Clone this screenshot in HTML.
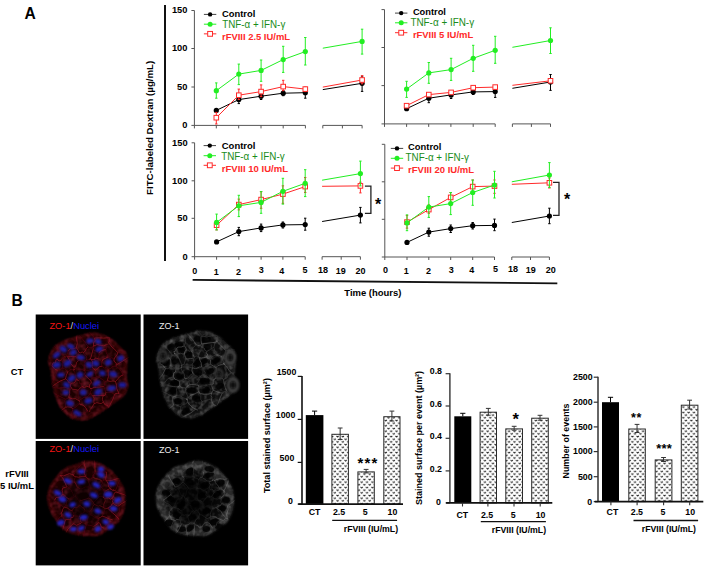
<!DOCTYPE html>
<html><head><meta charset="utf-8"><title>Figure</title>
<style>
html,body{margin:0;padding:0;background:#fff;width:709px;height:571px;overflow:hidden}
svg{display:block}
text{font-family:"Liberation Sans",sans-serif}
</style></head><body>
<svg width="709" height="571" viewBox="0 0 709 571">
<defs><filter id="bl1" x="-20%" y="-20%" width="140%" height="140%"><feGaussianBlur stdDeviation="2.2"/></filter>
<filter id="bl2" x="-20%" y="-20%" width="140%" height="140%"><feGaussianBlur stdDeviation="0.6"/></filter>
<filter id="bl3" x="-20%" y="-20%" width="140%" height="140%"><feGaussianBlur stdDeviation="0.35"/></filter>
<pattern id="dots" patternUnits="userSpaceOnUse" x="383.4" y="440.5" width="5.36" height="5.36">
<path d="M1.3,0.9 L2.4,1.8 L3.5,0.9 M3.98,3.58 L5.08,4.48 L6.18,3.58 M-1.38,3.58 L-0.28,4.48 L0.82,3.58" stroke="#222" stroke-width="0.95" fill="none"/>
</pattern><filter id="mb15" x="-20%" y="-20%" width="140%" height="140%"><feGaussianBlur stdDeviation="1.3"/></filter>
<filter id="mb2" x="-20%" y="-20%" width="140%" height="140%"><feGaussianBlur stdDeviation="2"/></filter>
<filter id="mb3" x="-30%" y="-30%" width="160%" height="160%"><feGaussianBlur stdDeviation="5"/></filter>
<filter id="mb08" x="-50%" y="-50%" width="200%" height="200%"><feGaussianBlur stdDeviation="0.85"/></filter>
<filter id="mb12" x="-20%" y="-20%" width="140%" height="140%"><feGaussianBlur stdDeviation="1.1"/></filter>
<filter id="mb07" x="-50%" y="-50%" width="200%" height="200%"><feGaussianBlur stdDeviation="0.7"/></filter>
<filter id="texR1" x="0" y="0" width="100%" height="100%"><feTurbulence type="fractalNoise" baseFrequency="0.16" numOctaves="2" seed="7"/><feColorMatrix type="matrix" values="0 0 0 0 0.36  0 0 0 0 0.02  0 0 0 0 0.05  1.2 0 0 0 -0.5"/></filter>
<filter id="texG1" x="0" y="0" width="100%" height="100%"><feTurbulence type="fractalNoise" baseFrequency="0.2" numOctaves="2" seed="7"/><feColorMatrix type="matrix" values="0 0 0 0 0.24  0 0 0 0 0.24  0 0 0 0 0.24  1.2 0 0 0 -0.5"/></filter>
<filter id="texR2" x="0" y="0" width="100%" height="100%"><feTurbulence type="fractalNoise" baseFrequency="0.16" numOctaves="2" seed="14"/><feColorMatrix type="matrix" values="0 0 0 0 0.36  0 0 0 0 0.02  0 0 0 0 0.05  1.2 0 0 0 -0.5"/></filter>
<filter id="texG2" x="0" y="0" width="100%" height="100%"><feTurbulence type="fractalNoise" baseFrequency="0.2" numOctaves="2" seed="14"/><feColorMatrix type="matrix" values="0 0 0 0 0.24  0 0 0 0 0.24  0 0 0 0 0.24  1.2 0 0 0 -0.5"/></filter>
<filter id="texR3" x="0" y="0" width="100%" height="100%"><feTurbulence type="fractalNoise" baseFrequency="0.16" numOctaves="2" seed="21"/><feColorMatrix type="matrix" values="0 0 0 0 0.36  0 0 0 0 0.02  0 0 0 0 0.05  1.2 0 0 0 -0.5"/></filter>
<filter id="texG3" x="0" y="0" width="100%" height="100%"><feTurbulence type="fractalNoise" baseFrequency="0.2" numOctaves="2" seed="21"/><feColorMatrix type="matrix" values="0 0 0 0 0.24  0 0 0 0 0.24  0 0 0 0 0.24  1.2 0 0 0 -0.5"/></filter>
<filter id="texR4" x="0" y="0" width="100%" height="100%"><feTurbulence type="fractalNoise" baseFrequency="0.16" numOctaves="2" seed="28"/><feColorMatrix type="matrix" values="0 0 0 0 0.36  0 0 0 0 0.02  0 0 0 0 0.05  1.2 0 0 0 -0.5"/></filter>
<filter id="texG4" x="0" y="0" width="100%" height="100%"><feTurbulence type="fractalNoise" baseFrequency="0.2" numOctaves="2" seed="28"/><feColorMatrix type="matrix" values="0 0 0 0 0.24  0 0 0 0 0.24  0 0 0 0 0.24  1.2 0 0 0 -0.5"/></filter>
<filter id="mb05" x="-5%" y="-5%" width="110%" height="110%"><feGaussianBlur stdDeviation="0.45"/></filter></defs>
<text x="24.4" y="18.6" font-size="15.6" font-weight="bold" fill="#000" text-anchor="start" >A</text>
<line x1="165" y1="5" x2="165" y2="261" stroke="#111" stroke-width="2"/>
<text transform="translate(153.1,127.9) rotate(-90)" x="0" y="0" font-size="9.3" font-weight="bold" text-anchor="middle" textLength="134" lengthAdjust="spacingAndGlyphs">FITC-labeled Dextran (µg/mL)</text>
<line x1="194.4" y1="10.5" x2="194.4" y2="128.4" stroke="#555" stroke-width="1"/>
<line x1="191.4" y1="10.5" x2="194.4" y2="10.5" stroke="#555" stroke-width="1"/>
<text x="187.4" y="13.4" font-size="9.3" font-weight="bold" fill="#000" text-anchor="end" >150</text>
<line x1="191.4" y1="48.5" x2="194.4" y2="48.5" stroke="#555" stroke-width="1"/>
<text x="187.4" y="51.4" font-size="9.3" font-weight="bold" fill="#000" text-anchor="end" >100</text>
<line x1="191.4" y1="87.0" x2="194.4" y2="87.0" stroke="#555" stroke-width="1"/>
<text x="187.4" y="89.9" font-size="9.3" font-weight="bold" fill="#000" text-anchor="end" >50</text>
<line x1="191.4" y1="125.4" x2="194.4" y2="125.4" stroke="#555" stroke-width="1"/>
<text x="187.4" y="128.3" font-size="9.3" font-weight="bold" fill="#000" text-anchor="end" >0</text>
<line x1="194.4" y1="125.4" x2="305.4" y2="125.4" stroke="#555" stroke-width="1"/>
<line x1="216.3" y1="125.4" x2="216.3" y2="128.4" stroke="#555" stroke-width="1"/>
<line x1="238.7" y1="125.4" x2="238.7" y2="128.4" stroke="#555" stroke-width="1"/>
<line x1="261.0" y1="125.4" x2="261.0" y2="128.4" stroke="#555" stroke-width="1"/>
<line x1="283.2" y1="125.4" x2="283.2" y2="128.4" stroke="#555" stroke-width="1"/>
<line x1="305.4" y1="125.4" x2="305.4" y2="128.4" stroke="#555" stroke-width="1"/>
<line x1="322.8" y1="125.4" x2="362.1" y2="125.4" stroke="#555" stroke-width="1"/>
<line x1="322.8" y1="125.4" x2="322.8" y2="128.4" stroke="#555" stroke-width="1"/>
<line x1="342.4" y1="125.4" x2="342.4" y2="128.4" stroke="#555" stroke-width="1"/>
<line x1="362.1" y1="125.4" x2="362.1" y2="128.4" stroke="#555" stroke-width="1"/>
<polyline points="216.3,110.4 238.8,99.6 261.1,96.2 283.2,93.2 305.3,92.7" fill="none" stroke="#000" stroke-width="1"/>
<line x1="322.8" y1="89.6" x2="362.1" y2="83.3" stroke="#000" stroke-width="1"/>
<line x1="238.8" y1="96.6" x2="238.8" y2="103.6" stroke="#000" stroke-width="1"/>
<line x1="237.60000000000002" y1="96.6" x2="240.0" y2="96.6" stroke="#000" stroke-width="1"/>
<line x1="237.60000000000002" y1="103.6" x2="240.0" y2="103.6" stroke="#000" stroke-width="1"/>
<line x1="261.1" y1="93" x2="261.1" y2="99.5" stroke="#000" stroke-width="1"/>
<line x1="259.90000000000003" y1="93" x2="262.3" y2="93" stroke="#000" stroke-width="1"/>
<line x1="259.90000000000003" y1="99.5" x2="262.3" y2="99.5" stroke="#000" stroke-width="1"/>
<line x1="283.2" y1="90.5" x2="283.2" y2="95.7" stroke="#000" stroke-width="1"/>
<line x1="282.0" y1="90.5" x2="284.4" y2="90.5" stroke="#000" stroke-width="1"/>
<line x1="282.0" y1="95.7" x2="284.4" y2="95.7" stroke="#000" stroke-width="1"/>
<line x1="305.3" y1="87.4" x2="305.3" y2="98.2" stroke="#000" stroke-width="1"/>
<line x1="304.1" y1="87.4" x2="306.5" y2="87.4" stroke="#000" stroke-width="1"/>
<line x1="304.1" y1="98.2" x2="306.5" y2="98.2" stroke="#000" stroke-width="1"/>
<line x1="362.1" y1="76.2" x2="362.1" y2="91.4" stroke="#000" stroke-width="1"/>
<line x1="360.90000000000003" y1="76.2" x2="363.3" y2="76.2" stroke="#000" stroke-width="1"/>
<line x1="360.90000000000003" y1="91.4" x2="363.3" y2="91.4" stroke="#000" stroke-width="1"/>
<circle cx="216.3" cy="110.4" r="2.6" fill="#000"/>
<circle cx="238.8" cy="99.6" r="2.6" fill="#000"/>
<circle cx="261.1" cy="96.2" r="2.6" fill="#000"/>
<circle cx="283.2" cy="93.2" r="2.6" fill="#000"/>
<circle cx="305.3" cy="92.7" r="2.6" fill="#000"/>
<circle cx="362.1" cy="83.3" r="2.6" fill="#000"/>
<polyline points="216.3,117.7 238.8,95.2 261.1,91.6 283.2,86.6 305.3,89.1" fill="none" stroke="#ff2a2a" stroke-width="1"/>
<line x1="322.8" y1="87.1" x2="362.1" y2="80.0" stroke="#ff2a2a" stroke-width="1"/>
<line x1="216.3" y1="112.4" x2="216.3" y2="124" stroke="#ff2a2a" stroke-width="1"/>
<line x1="215.10000000000002" y1="112.4" x2="217.5" y2="112.4" stroke="#ff2a2a" stroke-width="1"/>
<line x1="215.10000000000002" y1="124" x2="217.5" y2="124" stroke="#ff2a2a" stroke-width="1"/>
<line x1="238.8" y1="89.1" x2="238.8" y2="99.5" stroke="#ff2a2a" stroke-width="1"/>
<line x1="237.60000000000002" y1="89.1" x2="240.0" y2="89.1" stroke="#ff2a2a" stroke-width="1"/>
<line x1="237.60000000000002" y1="99.5" x2="240.0" y2="99.5" stroke="#ff2a2a" stroke-width="1"/>
<line x1="261.1" y1="84.9" x2="261.1" y2="96.6" stroke="#ff2a2a" stroke-width="1"/>
<line x1="259.90000000000003" y1="84.9" x2="262.3" y2="84.9" stroke="#ff2a2a" stroke-width="1"/>
<line x1="259.90000000000003" y1="96.6" x2="262.3" y2="96.6" stroke="#ff2a2a" stroke-width="1"/>
<line x1="283.2" y1="80.3" x2="283.2" y2="90.7" stroke="#ff2a2a" stroke-width="1"/>
<line x1="282.0" y1="80.3" x2="284.4" y2="80.3" stroke="#ff2a2a" stroke-width="1"/>
<line x1="282.0" y1="90.7" x2="284.4" y2="90.7" stroke="#ff2a2a" stroke-width="1"/>
<line x1="305.3" y1="87.1" x2="305.3" y2="91.6" stroke="#ff2a2a" stroke-width="1"/>
<line x1="304.1" y1="87.1" x2="306.5" y2="87.1" stroke="#ff2a2a" stroke-width="1"/>
<line x1="304.1" y1="91.6" x2="306.5" y2="91.6" stroke="#ff2a2a" stroke-width="1"/>
<line x1="362.1" y1="75.7" x2="362.1" y2="83.8" stroke="#ff2a2a" stroke-width="1"/>
<line x1="360.90000000000003" y1="75.7" x2="363.3" y2="75.7" stroke="#ff2a2a" stroke-width="1"/>
<line x1="360.90000000000003" y1="83.8" x2="363.3" y2="83.8" stroke="#ff2a2a" stroke-width="1"/>
<rect x="214.0" y="115.4" width="4.6" height="4.6" fill="#fff" stroke="#ff2a2a" stroke-width="1"/>
<rect x="236.5" y="92.9" width="4.6" height="4.6" fill="#fff" stroke="#ff2a2a" stroke-width="1"/>
<rect x="258.8" y="89.3" width="4.6" height="4.6" fill="#fff" stroke="#ff2a2a" stroke-width="1"/>
<rect x="280.9" y="84.3" width="4.6" height="4.6" fill="#fff" stroke="#ff2a2a" stroke-width="1"/>
<rect x="303.0" y="86.8" width="4.6" height="4.6" fill="#fff" stroke="#ff2a2a" stroke-width="1"/>
<rect x="359.8" y="77.7" width="4.6" height="4.6" fill="#fff" stroke="#ff2a2a" stroke-width="1"/>
<polyline points="216.3,90.7 238.8,74.1 261.1,70.4 283.2,59.6 305.3,51.6" fill="none" stroke="#22ee22" stroke-width="1"/>
<line x1="322.8" y1="48.2" x2="362.1" y2="41.4" stroke="#22ee22" stroke-width="1"/>
<line x1="216.3" y1="82.9" x2="216.3" y2="98.2" stroke="#22ee22" stroke-width="1"/>
<line x1="215.10000000000002" y1="82.9" x2="217.5" y2="82.9" stroke="#22ee22" stroke-width="1"/>
<line x1="215.10000000000002" y1="98.2" x2="217.5" y2="98.2" stroke="#22ee22" stroke-width="1"/>
<line x1="238.8" y1="64.1" x2="238.8" y2="84.6" stroke="#22ee22" stroke-width="1"/>
<line x1="237.60000000000002" y1="64.1" x2="240.0" y2="64.1" stroke="#22ee22" stroke-width="1"/>
<line x1="237.60000000000002" y1="84.6" x2="240.0" y2="84.6" stroke="#22ee22" stroke-width="1"/>
<line x1="261.1" y1="60" x2="261.1" y2="81.3" stroke="#22ee22" stroke-width="1"/>
<line x1="259.90000000000003" y1="60" x2="262.3" y2="60" stroke="#22ee22" stroke-width="1"/>
<line x1="259.90000000000003" y1="81.3" x2="262.3" y2="81.3" stroke="#22ee22" stroke-width="1"/>
<line x1="283.2" y1="46.3" x2="283.2" y2="72.4" stroke="#22ee22" stroke-width="1"/>
<line x1="282.0" y1="46.3" x2="284.4" y2="46.3" stroke="#22ee22" stroke-width="1"/>
<line x1="282.0" y1="72.4" x2="284.4" y2="72.4" stroke="#22ee22" stroke-width="1"/>
<line x1="305.3" y1="37.5" x2="305.3" y2="65" stroke="#22ee22" stroke-width="1"/>
<line x1="304.1" y1="37.5" x2="306.5" y2="37.5" stroke="#22ee22" stroke-width="1"/>
<line x1="304.1" y1="65" x2="306.5" y2="65" stroke="#22ee22" stroke-width="1"/>
<line x1="362.1" y1="29.2" x2="362.1" y2="54.1" stroke="#22ee22" stroke-width="1"/>
<line x1="360.90000000000003" y1="29.2" x2="363.3" y2="29.2" stroke="#22ee22" stroke-width="1"/>
<line x1="360.90000000000003" y1="54.1" x2="363.3" y2="54.1" stroke="#22ee22" stroke-width="1"/>
<circle cx="216.3" cy="90.7" r="2.6" fill="#22ee22"/>
<circle cx="238.8" cy="74.1" r="2.6" fill="#22ee22"/>
<circle cx="261.1" cy="70.4" r="2.6" fill="#22ee22"/>
<circle cx="283.2" cy="59.6" r="2.6" fill="#22ee22"/>
<circle cx="305.3" cy="51.6" r="2.6" fill="#22ee22"/>
<circle cx="362.1" cy="41.4" r="2.6" fill="#22ee22"/>
<line x1="203.9" y1="14.4" x2="216.29999999999998" y2="14.4" stroke="#444" stroke-width="1"/>
<circle cx="210.1" cy="14.4" r="2.2" fill="#000"/>
<text x="222.1" y="16.7" font-size="9.5" font-weight="bold" fill="#000" text-anchor="start" textLength="33.2" lengthAdjust="spacingAndGlyphs" >Control</text>
<line x1="203.9" y1="24.2" x2="216.29999999999998" y2="24.2" stroke="#22ee22" stroke-width="1"/>
<circle cx="210.1" cy="24.2" r="2.5" fill="#22ee22"/>
<text x="222.2" y="27.7" font-size="10" font-weight="normal" fill="#1a8c1a" text-anchor="start" textLength="63.1" lengthAdjust="spacingAndGlyphs" >TNF-α + IFN-γ</text>
<line x1="203.9" y1="33.85" x2="216.29999999999998" y2="33.85" stroke="#ff2a2a" stroke-width="1"/>
<rect x="207.7" y="31.450000000000003" width="4.8" height="4.8" fill="#fff" stroke="#ff2a2a" stroke-width="1"/>
<text x="222.0" y="39.6" font-size="9.6" font-weight="bold" fill="#ff2a2a" text-anchor="start" textLength="68" lengthAdjust="spacingAndGlyphs" >rFVIII 2.5 IU/mL</text>
<line x1="384.5" y1="9.6" x2="384.5" y2="126.9" stroke="#555" stroke-width="1"/>
<line x1="381.5" y1="9.6" x2="384.5" y2="9.6" stroke="#555" stroke-width="1"/>
<line x1="381.5" y1="47.5" x2="384.5" y2="47.5" stroke="#555" stroke-width="1"/>
<line x1="381.5" y1="85.6" x2="384.5" y2="85.6" stroke="#555" stroke-width="1"/>
<line x1="381.5" y1="123.9" x2="384.5" y2="123.9" stroke="#555" stroke-width="1"/>
<line x1="384.5" y1="123.9" x2="495.2" y2="123.9" stroke="#555" stroke-width="1"/>
<line x1="406.6" y1="123.9" x2="406.6" y2="126.9" stroke="#555" stroke-width="1"/>
<line x1="428.7" y1="123.9" x2="428.7" y2="126.9" stroke="#555" stroke-width="1"/>
<line x1="450.9" y1="123.9" x2="450.9" y2="126.9" stroke="#555" stroke-width="1"/>
<line x1="473.2" y1="123.9" x2="473.2" y2="126.9" stroke="#555" stroke-width="1"/>
<line x1="495.2" y1="123.9" x2="495.2" y2="126.9" stroke="#555" stroke-width="1"/>
<line x1="512.4" y1="123.9" x2="550.5" y2="123.9" stroke="#555" stroke-width="1"/>
<line x1="512.4" y1="123.9" x2="512.4" y2="126.9" stroke="#555" stroke-width="1"/>
<line x1="531.4" y1="123.9" x2="531.4" y2="126.9" stroke="#555" stroke-width="1"/>
<line x1="550.5" y1="123.9" x2="550.5" y2="126.9" stroke="#555" stroke-width="1"/>
<polyline points="406.6,108.7 428.8,98.2 451.1,94.9 473.2,91.9 495.2,91.6" fill="none" stroke="#000" stroke-width="1"/>
<line x1="512.4" y1="88.3" x2="550.5" y2="82.0" stroke="#000" stroke-width="1"/>
<line x1="428.8" y1="95.7" x2="428.8" y2="102.7" stroke="#000" stroke-width="1"/>
<line x1="427.6" y1="95.7" x2="430.0" y2="95.7" stroke="#000" stroke-width="1"/>
<line x1="427.6" y1="102.7" x2="430.0" y2="102.7" stroke="#000" stroke-width="1"/>
<line x1="451.1" y1="92" x2="451.1" y2="98.5" stroke="#000" stroke-width="1"/>
<line x1="449.90000000000003" y1="92" x2="452.3" y2="92" stroke="#000" stroke-width="1"/>
<line x1="449.90000000000003" y1="98.5" x2="452.3" y2="98.5" stroke="#000" stroke-width="1"/>
<line x1="473.2" y1="89.5" x2="473.2" y2="94.5" stroke="#000" stroke-width="1"/>
<line x1="472.0" y1="89.5" x2="474.4" y2="89.5" stroke="#000" stroke-width="1"/>
<line x1="472.0" y1="94.5" x2="474.4" y2="94.5" stroke="#000" stroke-width="1"/>
<line x1="495.2" y1="86.6" x2="495.2" y2="97.4" stroke="#000" stroke-width="1"/>
<line x1="494.0" y1="86.6" x2="496.4" y2="86.6" stroke="#000" stroke-width="1"/>
<line x1="494.0" y1="97.4" x2="496.4" y2="97.4" stroke="#000" stroke-width="1"/>
<line x1="550.5" y1="74.5" x2="550.5" y2="90.4" stroke="#000" stroke-width="1"/>
<line x1="549.3" y1="74.5" x2="551.7" y2="74.5" stroke="#000" stroke-width="1"/>
<line x1="549.3" y1="90.4" x2="551.7" y2="90.4" stroke="#000" stroke-width="1"/>
<circle cx="406.6" cy="108.7" r="2.6" fill="#000"/>
<circle cx="428.8" cy="98.2" r="2.6" fill="#000"/>
<circle cx="451.1" cy="94.9" r="2.6" fill="#000"/>
<circle cx="473.2" cy="91.9" r="2.6" fill="#000"/>
<circle cx="495.2" cy="91.6" r="2.6" fill="#000"/>
<circle cx="550.5" cy="82.0" r="2.6" fill="#000"/>
<polyline points="406.6,105.7 428.8,94.6 451.1,92.4 473.2,87.7 495.2,87.1" fill="none" stroke="#ff2a2a" stroke-width="1"/>
<line x1="512.4" y1="85.3" x2="550.5" y2="80.8" stroke="#ff2a2a" stroke-width="1"/>
<rect x="404.3" y="103.4" width="4.6" height="4.6" fill="#fff" stroke="#ff2a2a" stroke-width="1"/>
<rect x="426.5" y="92.3" width="4.6" height="4.6" fill="#fff" stroke="#ff2a2a" stroke-width="1"/>
<rect x="448.8" y="90.10000000000001" width="4.6" height="4.6" fill="#fff" stroke="#ff2a2a" stroke-width="1"/>
<rect x="470.9" y="85.4" width="4.6" height="4.6" fill="#fff" stroke="#ff2a2a" stroke-width="1"/>
<rect x="492.9" y="84.8" width="4.6" height="4.6" fill="#fff" stroke="#ff2a2a" stroke-width="1"/>
<rect x="548.2" y="78.5" width="4.6" height="4.6" fill="#fff" stroke="#ff2a2a" stroke-width="1"/>
<polyline points="406.6,89.1 428.8,72.9 451.1,69.6 473.2,58.3 495.2,50.3" fill="none" stroke="#22ee22" stroke-width="1"/>
<line x1="512.4" y1="47.3" x2="550.5" y2="40.5" stroke="#22ee22" stroke-width="1"/>
<line x1="406.6" y1="81.3" x2="406.6" y2="97.4" stroke="#22ee22" stroke-width="1"/>
<line x1="405.40000000000003" y1="81.3" x2="407.8" y2="81.3" stroke="#22ee22" stroke-width="1"/>
<line x1="405.40000000000003" y1="97.4" x2="407.8" y2="97.4" stroke="#22ee22" stroke-width="1"/>
<line x1="428.8" y1="62.5" x2="428.8" y2="83.3" stroke="#22ee22" stroke-width="1"/>
<line x1="427.6" y1="62.5" x2="430.0" y2="62.5" stroke="#22ee22" stroke-width="1"/>
<line x1="427.6" y1="83.3" x2="430.0" y2="83.3" stroke="#22ee22" stroke-width="1"/>
<line x1="451.1" y1="58.3" x2="451.1" y2="80.4" stroke="#22ee22" stroke-width="1"/>
<line x1="449.90000000000003" y1="58.3" x2="452.3" y2="58.3" stroke="#22ee22" stroke-width="1"/>
<line x1="449.90000000000003" y1="80.4" x2="452.3" y2="80.4" stroke="#22ee22" stroke-width="1"/>
<line x1="473.2" y1="45.3" x2="473.2" y2="71.3" stroke="#22ee22" stroke-width="1"/>
<line x1="472.0" y1="45.3" x2="474.4" y2="45.3" stroke="#22ee22" stroke-width="1"/>
<line x1="472.0" y1="71.3" x2="474.4" y2="71.3" stroke="#22ee22" stroke-width="1"/>
<line x1="495.2" y1="36.3" x2="495.2" y2="63.3" stroke="#22ee22" stroke-width="1"/>
<line x1="494.0" y1="36.3" x2="496.4" y2="36.3" stroke="#22ee22" stroke-width="1"/>
<line x1="494.0" y1="63.3" x2="496.4" y2="63.3" stroke="#22ee22" stroke-width="1"/>
<line x1="550.5" y1="27.8" x2="550.5" y2="53.5" stroke="#22ee22" stroke-width="1"/>
<line x1="549.3" y1="27.8" x2="551.7" y2="27.8" stroke="#22ee22" stroke-width="1"/>
<line x1="549.3" y1="53.5" x2="551.7" y2="53.5" stroke="#22ee22" stroke-width="1"/>
<circle cx="406.6" cy="89.1" r="2.6" fill="#22ee22"/>
<circle cx="428.8" cy="72.9" r="2.6" fill="#22ee22"/>
<circle cx="451.1" cy="69.6" r="2.6" fill="#22ee22"/>
<circle cx="473.2" cy="58.3" r="2.6" fill="#22ee22"/>
<circle cx="495.2" cy="50.3" r="2.6" fill="#22ee22"/>
<circle cx="550.5" cy="40.5" r="2.6" fill="#22ee22"/>
<line x1="395.0" y1="13.1" x2="407.4" y2="13.1" stroke="#444" stroke-width="1"/>
<circle cx="401.2" cy="13.1" r="2.2" fill="#000"/>
<text x="412.9" y="15.0" font-size="9.5" font-weight="bold" fill="#000" text-anchor="start" textLength="33.0" lengthAdjust="spacingAndGlyphs" >Control</text>
<line x1="395.0" y1="22.8" x2="407.4" y2="22.8" stroke="#22ee22" stroke-width="1"/>
<circle cx="401.2" cy="22.8" r="2.5" fill="#22ee22"/>
<text x="410.4" y="26.1" font-size="10" font-weight="normal" fill="#1a8c1a" text-anchor="start" textLength="63.7" lengthAdjust="spacingAndGlyphs" >TNF-α + IFN-γ</text>
<line x1="395.0" y1="32.7" x2="407.4" y2="32.7" stroke="#ff2a2a" stroke-width="1"/>
<rect x="398.8" y="30.300000000000004" width="4.8" height="4.8" fill="#fff" stroke="#ff2a2a" stroke-width="1"/>
<text x="412.9" y="38.4" font-size="9.6" font-weight="bold" fill="#ff2a2a" text-anchor="start" textLength="60.3" lengthAdjust="spacingAndGlyphs" >rFVIII 5 IU/mL</text>
<line x1="194.6" y1="142.8" x2="194.6" y2="259.7" stroke="#555" stroke-width="1"/>
<line x1="191.6" y1="142.8" x2="194.6" y2="142.8" stroke="#555" stroke-width="1"/>
<text x="187.6" y="145.70000000000002" font-size="9.3" font-weight="bold" fill="#000" text-anchor="end" >150</text>
<line x1="191.6" y1="180.8" x2="194.6" y2="180.8" stroke="#555" stroke-width="1"/>
<text x="187.6" y="183.70000000000002" font-size="9.3" font-weight="bold" fill="#000" text-anchor="end" >100</text>
<line x1="191.6" y1="218.3" x2="194.6" y2="218.3" stroke="#555" stroke-width="1"/>
<text x="187.6" y="221.20000000000002" font-size="9.3" font-weight="bold" fill="#000" text-anchor="end" >50</text>
<line x1="191.6" y1="256.7" x2="194.6" y2="256.7" stroke="#555" stroke-width="1"/>
<text x="187.6" y="259.59999999999997" font-size="9.3" font-weight="bold" fill="#000" text-anchor="end" >0</text>
<line x1="194.6" y1="256.7" x2="305.2" y2="256.7" stroke="#555" stroke-width="1"/>
<line x1="216.6" y1="256.7" x2="216.6" y2="259.7" stroke="#555" stroke-width="1"/>
<line x1="238.8" y1="256.7" x2="238.8" y2="259.7" stroke="#555" stroke-width="1"/>
<line x1="261.1" y1="256.7" x2="261.1" y2="259.7" stroke="#555" stroke-width="1"/>
<line x1="282.9" y1="256.7" x2="282.9" y2="259.7" stroke="#555" stroke-width="1"/>
<line x1="305.2" y1="256.7" x2="305.2" y2="259.7" stroke="#555" stroke-width="1"/>
<line x1="322.1" y1="256.7" x2="360.4" y2="256.7" stroke="#555" stroke-width="1"/>
<line x1="322.1" y1="256.7" x2="322.1" y2="259.7" stroke="#555" stroke-width="1"/>
<line x1="341.2" y1="256.7" x2="341.2" y2="259.7" stroke="#555" stroke-width="1"/>
<line x1="360.4" y1="256.7" x2="360.4" y2="259.7" stroke="#555" stroke-width="1"/>
<polyline points="216.6,241.9 238.8,231.6 261.1,227.9 282.9,224.9 305.2,224.6" fill="none" stroke="#000" stroke-width="1"/>
<line x1="322.1" y1="221.5" x2="360.4" y2="215.1" stroke="#000" stroke-width="1"/>
<line x1="238.8" y1="227.4" x2="238.8" y2="235.7" stroke="#000" stroke-width="1"/>
<line x1="237.60000000000002" y1="227.4" x2="240.0" y2="227.4" stroke="#000" stroke-width="1"/>
<line x1="237.60000000000002" y1="235.7" x2="240.0" y2="235.7" stroke="#000" stroke-width="1"/>
<line x1="261.1" y1="224.1" x2="261.1" y2="231.6" stroke="#000" stroke-width="1"/>
<line x1="259.90000000000003" y1="224.1" x2="262.3" y2="224.1" stroke="#000" stroke-width="1"/>
<line x1="259.90000000000003" y1="231.6" x2="262.3" y2="231.6" stroke="#000" stroke-width="1"/>
<line x1="282.9" y1="222" x2="282.9" y2="228" stroke="#000" stroke-width="1"/>
<line x1="281.7" y1="222" x2="284.09999999999997" y2="222" stroke="#000" stroke-width="1"/>
<line x1="281.7" y1="228" x2="284.09999999999997" y2="228" stroke="#000" stroke-width="1"/>
<line x1="305.2" y1="218.2" x2="305.2" y2="230.2" stroke="#000" stroke-width="1"/>
<line x1="304.0" y1="218.2" x2="306.4" y2="218.2" stroke="#000" stroke-width="1"/>
<line x1="304.0" y1="230.2" x2="306.4" y2="230.2" stroke="#000" stroke-width="1"/>
<line x1="360.4" y1="207.4" x2="360.4" y2="222.9" stroke="#000" stroke-width="1"/>
<line x1="359.2" y1="207.4" x2="361.59999999999997" y2="207.4" stroke="#000" stroke-width="1"/>
<line x1="359.2" y1="222.9" x2="361.59999999999997" y2="222.9" stroke="#000" stroke-width="1"/>
<circle cx="216.6" cy="241.9" r="2.6" fill="#000"/>
<circle cx="238.8" cy="231.6" r="2.6" fill="#000"/>
<circle cx="261.1" cy="227.9" r="2.6" fill="#000"/>
<circle cx="282.9" cy="224.9" r="2.6" fill="#000"/>
<circle cx="305.2" cy="224.6" r="2.6" fill="#000"/>
<circle cx="360.4" cy="215.1" r="2.6" fill="#000"/>
<polyline points="216.6,225.2 238.8,204.6 261.1,199.6 282.9,194.1 305.2,186.6" fill="none" stroke="#ff2a2a" stroke-width="1"/>
<line x1="322.1" y1="186.3" x2="360.4" y2="185.9" stroke="#ff2a2a" stroke-width="1"/>
<line x1="216.6" y1="221" x2="216.6" y2="229.9" stroke="#ff2a2a" stroke-width="1"/>
<line x1="215.4" y1="221" x2="217.79999999999998" y2="221" stroke="#ff2a2a" stroke-width="1"/>
<line x1="215.4" y1="229.9" x2="217.79999999999998" y2="229.9" stroke="#ff2a2a" stroke-width="1"/>
<line x1="238.8" y1="199.1" x2="238.8" y2="209.9" stroke="#ff2a2a" stroke-width="1"/>
<line x1="237.60000000000002" y1="199.1" x2="240.0" y2="199.1" stroke="#ff2a2a" stroke-width="1"/>
<line x1="237.60000000000002" y1="209.9" x2="240.0" y2="209.9" stroke="#ff2a2a" stroke-width="1"/>
<line x1="261.1" y1="191.6" x2="261.1" y2="208.3" stroke="#ff2a2a" stroke-width="1"/>
<line x1="259.90000000000003" y1="191.6" x2="262.3" y2="191.6" stroke="#ff2a2a" stroke-width="1"/>
<line x1="259.90000000000003" y1="208.3" x2="262.3" y2="208.3" stroke="#ff2a2a" stroke-width="1"/>
<line x1="282.9" y1="185.8" x2="282.9" y2="203.3" stroke="#ff2a2a" stroke-width="1"/>
<line x1="281.7" y1="185.8" x2="284.09999999999997" y2="185.8" stroke="#ff2a2a" stroke-width="1"/>
<line x1="281.7" y1="203.3" x2="284.09999999999997" y2="203.3" stroke="#ff2a2a" stroke-width="1"/>
<line x1="305.2" y1="177.5" x2="305.2" y2="192.5" stroke="#ff2a2a" stroke-width="1"/>
<line x1="304.0" y1="177.5" x2="306.4" y2="177.5" stroke="#ff2a2a" stroke-width="1"/>
<line x1="304.0" y1="192.5" x2="306.4" y2="192.5" stroke="#ff2a2a" stroke-width="1"/>
<line x1="360.4" y1="182.2" x2="360.4" y2="192.9" stroke="#ff2a2a" stroke-width="1"/>
<line x1="359.2" y1="182.2" x2="361.59999999999997" y2="182.2" stroke="#ff2a2a" stroke-width="1"/>
<line x1="359.2" y1="192.9" x2="361.59999999999997" y2="192.9" stroke="#ff2a2a" stroke-width="1"/>
<rect x="214.29999999999998" y="222.89999999999998" width="4.6" height="4.6" fill="#fff" stroke="#ff2a2a" stroke-width="1"/>
<rect x="236.5" y="202.29999999999998" width="4.6" height="4.6" fill="#fff" stroke="#ff2a2a" stroke-width="1"/>
<rect x="258.8" y="197.29999999999998" width="4.6" height="4.6" fill="#fff" stroke="#ff2a2a" stroke-width="1"/>
<rect x="280.59999999999997" y="191.79999999999998" width="4.6" height="4.6" fill="#fff" stroke="#ff2a2a" stroke-width="1"/>
<rect x="302.9" y="184.29999999999998" width="4.6" height="4.6" fill="#fff" stroke="#ff2a2a" stroke-width="1"/>
<rect x="358.09999999999997" y="183.6" width="4.6" height="4.6" fill="#fff" stroke="#ff2a2a" stroke-width="1"/>
<polyline points="216.6,222.4 238.8,205.8 261.1,202.4 282.9,191.3 305.2,183.3" fill="none" stroke="#22ee22" stroke-width="1"/>
<line x1="322.1" y1="180.2" x2="360.4" y2="173.6" stroke="#22ee22" stroke-width="1"/>
<line x1="216.6" y1="214.1" x2="216.6" y2="229.9" stroke="#22ee22" stroke-width="1"/>
<line x1="215.4" y1="214.1" x2="217.79999999999998" y2="214.1" stroke="#22ee22" stroke-width="1"/>
<line x1="215.4" y1="229.9" x2="217.79999999999998" y2="229.9" stroke="#22ee22" stroke-width="1"/>
<line x1="238.8" y1="195.3" x2="238.8" y2="216.6" stroke="#22ee22" stroke-width="1"/>
<line x1="237.60000000000002" y1="195.3" x2="240.0" y2="195.3" stroke="#22ee22" stroke-width="1"/>
<line x1="237.60000000000002" y1="216.6" x2="240.0" y2="216.6" stroke="#22ee22" stroke-width="1"/>
<line x1="261.1" y1="191.6" x2="261.1" y2="213.3" stroke="#22ee22" stroke-width="1"/>
<line x1="259.90000000000003" y1="191.6" x2="262.3" y2="191.6" stroke="#22ee22" stroke-width="1"/>
<line x1="259.90000000000003" y1="213.3" x2="262.3" y2="213.3" stroke="#22ee22" stroke-width="1"/>
<line x1="282.9" y1="178.3" x2="282.9" y2="204.1" stroke="#22ee22" stroke-width="1"/>
<line x1="281.7" y1="178.3" x2="284.09999999999997" y2="178.3" stroke="#22ee22" stroke-width="1"/>
<line x1="281.7" y1="204.1" x2="284.09999999999997" y2="204.1" stroke="#22ee22" stroke-width="1"/>
<line x1="305.2" y1="169.7" x2="305.2" y2="196.6" stroke="#22ee22" stroke-width="1"/>
<line x1="304.0" y1="169.7" x2="306.4" y2="169.7" stroke="#22ee22" stroke-width="1"/>
<line x1="304.0" y1="196.6" x2="306.4" y2="196.6" stroke="#22ee22" stroke-width="1"/>
<line x1="360.4" y1="161.1" x2="360.4" y2="185.9" stroke="#22ee22" stroke-width="1"/>
<line x1="359.2" y1="161.1" x2="361.59999999999997" y2="161.1" stroke="#22ee22" stroke-width="1"/>
<line x1="359.2" y1="185.9" x2="361.59999999999997" y2="185.9" stroke="#22ee22" stroke-width="1"/>
<circle cx="216.6" cy="222.4" r="2.6" fill="#22ee22"/>
<circle cx="238.8" cy="205.8" r="2.6" fill="#22ee22"/>
<circle cx="261.1" cy="202.4" r="2.6" fill="#22ee22"/>
<circle cx="282.9" cy="191.3" r="2.6" fill="#22ee22"/>
<circle cx="305.2" cy="183.3" r="2.6" fill="#22ee22"/>
<circle cx="360.4" cy="173.6" r="2.6" fill="#22ee22"/>
<line x1="203.60000000000002" y1="145.6" x2="216.0" y2="145.6" stroke="#444" stroke-width="1"/>
<circle cx="209.8" cy="145.6" r="2.2" fill="#000"/>
<text x="221.8" y="148.7" font-size="9.5" font-weight="bold" fill="#000" text-anchor="start" textLength="33.6" lengthAdjust="spacingAndGlyphs" >Control</text>
<line x1="203.60000000000002" y1="155.7" x2="216.0" y2="155.7" stroke="#22ee22" stroke-width="1"/>
<circle cx="209.8" cy="155.7" r="2.5" fill="#22ee22"/>
<text x="221.2" y="159.7" font-size="10" font-weight="normal" fill="#1a8c1a" text-anchor="start" textLength="63.4" lengthAdjust="spacingAndGlyphs" >TNF-α + IFN-γ</text>
<line x1="203.60000000000002" y1="165.3" x2="216.0" y2="165.3" stroke="#ff2a2a" stroke-width="1"/>
<rect x="207.4" y="162.9" width="4.8" height="4.8" fill="#fff" stroke="#ff2a2a" stroke-width="1"/>
<text x="221.8" y="172.0" font-size="9.6" font-weight="bold" fill="#ff2a2a" text-anchor="start" textLength="66.3" lengthAdjust="spacingAndGlyphs" >rFVIII 10 IU/mL</text>
<polyline points="364.9,186.2 370.9,186.2 370.9,213.3 364.9,213.3" fill="none" stroke="#222" stroke-width="1.3"/>
<text x="378.0" y="209.6" font-size="16" font-weight="bold" fill="#000" text-anchor="middle" >*</text>
<line x1="384.8" y1="144.3" x2="384.8" y2="260.0" stroke="#555" stroke-width="1"/>
<line x1="381.8" y1="144.3" x2="384.8" y2="144.3" stroke="#555" stroke-width="1"/>
<line x1="381.8" y1="181.8" x2="384.8" y2="181.8" stroke="#555" stroke-width="1"/>
<line x1="381.8" y1="219.3" x2="384.8" y2="219.3" stroke="#555" stroke-width="1"/>
<line x1="381.8" y1="257.0" x2="384.8" y2="257.0" stroke="#555" stroke-width="1"/>
<line x1="384.8" y1="257.0" x2="494.5" y2="257.0" stroke="#555" stroke-width="1"/>
<line x1="407.0" y1="257.0" x2="407.0" y2="260.0" stroke="#555" stroke-width="1"/>
<line x1="428.8" y1="257.0" x2="428.8" y2="260.0" stroke="#555" stroke-width="1"/>
<line x1="450.7" y1="257.0" x2="450.7" y2="260.0" stroke="#555" stroke-width="1"/>
<line x1="472.7" y1="257.0" x2="472.7" y2="260.0" stroke="#555" stroke-width="1"/>
<line x1="494.5" y1="257.0" x2="494.5" y2="260.0" stroke="#555" stroke-width="1"/>
<line x1="511.8" y1="257.0" x2="549.4" y2="257.0" stroke="#555" stroke-width="1"/>
<line x1="511.8" y1="257.0" x2="511.8" y2="260.0" stroke="#555" stroke-width="1"/>
<line x1="530.5" y1="257.0" x2="530.5" y2="260.0" stroke="#555" stroke-width="1"/>
<line x1="549.4" y1="257.0" x2="549.4" y2="260.0" stroke="#555" stroke-width="1"/>
<polyline points="407,242.4 428.8,232.1 450.7,228.6 472.7,225.7 494.5,225.4" fill="none" stroke="#000" stroke-width="1"/>
<line x1="511.8" y1="222.5" x2="549.4" y2="216.0" stroke="#000" stroke-width="1"/>
<line x1="428.8" y1="228.2" x2="428.8" y2="236.2" stroke="#000" stroke-width="1"/>
<line x1="427.6" y1="228.2" x2="430.0" y2="228.2" stroke="#000" stroke-width="1"/>
<line x1="427.6" y1="236.2" x2="430.0" y2="236.2" stroke="#000" stroke-width="1"/>
<line x1="450.7" y1="225" x2="450.7" y2="232.5" stroke="#000" stroke-width="1"/>
<line x1="449.5" y1="225" x2="451.9" y2="225" stroke="#000" stroke-width="1"/>
<line x1="449.5" y1="232.5" x2="451.9" y2="232.5" stroke="#000" stroke-width="1"/>
<line x1="472.7" y1="222.5" x2="472.7" y2="229" stroke="#000" stroke-width="1"/>
<line x1="471.5" y1="222.5" x2="473.9" y2="222.5" stroke="#000" stroke-width="1"/>
<line x1="471.5" y1="229" x2="473.9" y2="229" stroke="#000" stroke-width="1"/>
<line x1="494.5" y1="219.1" x2="494.5" y2="230.7" stroke="#000" stroke-width="1"/>
<line x1="493.3" y1="219.1" x2="495.7" y2="219.1" stroke="#000" stroke-width="1"/>
<line x1="493.3" y1="230.7" x2="495.7" y2="230.7" stroke="#000" stroke-width="1"/>
<line x1="549.4" y1="208.2" x2="549.4" y2="223.7" stroke="#000" stroke-width="1"/>
<line x1="548.1999999999999" y1="208.2" x2="550.6" y2="208.2" stroke="#000" stroke-width="1"/>
<line x1="548.1999999999999" y1="223.7" x2="550.6" y2="223.7" stroke="#000" stroke-width="1"/>
<circle cx="407" cy="242.4" r="2.6" fill="#000"/>
<circle cx="428.8" cy="232.1" r="2.6" fill="#000"/>
<circle cx="450.7" cy="228.6" r="2.6" fill="#000"/>
<circle cx="472.7" cy="225.7" r="2.6" fill="#000"/>
<circle cx="494.5" cy="225.4" r="2.6" fill="#000"/>
<circle cx="549.4" cy="216.0" r="2.6" fill="#000"/>
<polyline points="407,222.1 428.8,209.6 450.7,197.4 472.7,186.6 494.5,186.1" fill="none" stroke="#ff2a2a" stroke-width="1"/>
<line x1="511.8" y1="184.3" x2="549.4" y2="182.8" stroke="#ff2a2a" stroke-width="1"/>
<line x1="407" y1="215.4" x2="407" y2="228.2" stroke="#ff2a2a" stroke-width="1"/>
<line x1="405.8" y1="215.4" x2="408.2" y2="215.4" stroke="#ff2a2a" stroke-width="1"/>
<line x1="405.8" y1="228.2" x2="408.2" y2="228.2" stroke="#ff2a2a" stroke-width="1"/>
<line x1="428.8" y1="204.9" x2="428.8" y2="213.3" stroke="#ff2a2a" stroke-width="1"/>
<line x1="427.6" y1="204.9" x2="430.0" y2="204.9" stroke="#ff2a2a" stroke-width="1"/>
<line x1="427.6" y1="213.3" x2="430.0" y2="213.3" stroke="#ff2a2a" stroke-width="1"/>
<line x1="450.7" y1="192.5" x2="450.7" y2="202.4" stroke="#ff2a2a" stroke-width="1"/>
<line x1="449.5" y1="192.5" x2="451.9" y2="192.5" stroke="#ff2a2a" stroke-width="1"/>
<line x1="449.5" y1="202.4" x2="451.9" y2="202.4" stroke="#ff2a2a" stroke-width="1"/>
<line x1="472.7" y1="180" x2="472.7" y2="193.3" stroke="#ff2a2a" stroke-width="1"/>
<line x1="471.5" y1="180" x2="473.9" y2="180" stroke="#ff2a2a" stroke-width="1"/>
<line x1="471.5" y1="193.3" x2="473.9" y2="193.3" stroke="#ff2a2a" stroke-width="1"/>
<line x1="494.5" y1="180" x2="494.5" y2="193.3" stroke="#ff2a2a" stroke-width="1"/>
<line x1="493.3" y1="180" x2="495.7" y2="180" stroke="#ff2a2a" stroke-width="1"/>
<line x1="493.3" y1="193.3" x2="495.7" y2="193.3" stroke="#ff2a2a" stroke-width="1"/>
<line x1="549.4" y1="178" x2="549.4" y2="188" stroke="#ff2a2a" stroke-width="1"/>
<line x1="548.1999999999999" y1="178" x2="550.6" y2="178" stroke="#ff2a2a" stroke-width="1"/>
<line x1="548.1999999999999" y1="188" x2="550.6" y2="188" stroke="#ff2a2a" stroke-width="1"/>
<rect x="404.7" y="219.79999999999998" width="4.6" height="4.6" fill="#fff" stroke="#ff2a2a" stroke-width="1"/>
<rect x="426.5" y="207.29999999999998" width="4.6" height="4.6" fill="#fff" stroke="#ff2a2a" stroke-width="1"/>
<rect x="448.4" y="195.1" width="4.6" height="4.6" fill="#fff" stroke="#ff2a2a" stroke-width="1"/>
<rect x="470.4" y="184.29999999999998" width="4.6" height="4.6" fill="#fff" stroke="#ff2a2a" stroke-width="1"/>
<rect x="492.2" y="183.79999999999998" width="4.6" height="4.6" fill="#fff" stroke="#ff2a2a" stroke-width="1"/>
<rect x="547.1" y="180.5" width="4.6" height="4.6" fill="#fff" stroke="#ff2a2a" stroke-width="1"/>
<polyline points="407,222.9 428.8,207.1 450.7,203.6 472.7,192.5 494.5,185" fill="none" stroke="#22ee22" stroke-width="1"/>
<line x1="511.8" y1="181.8" x2="549.4" y2="175.0" stroke="#22ee22" stroke-width="1"/>
<line x1="407" y1="214.9" x2="407" y2="230.7" stroke="#22ee22" stroke-width="1"/>
<line x1="405.8" y1="214.9" x2="408.2" y2="214.9" stroke="#22ee22" stroke-width="1"/>
<line x1="405.8" y1="230.7" x2="408.2" y2="230.7" stroke="#22ee22" stroke-width="1"/>
<line x1="428.8" y1="196.6" x2="428.8" y2="217.4" stroke="#22ee22" stroke-width="1"/>
<line x1="427.6" y1="196.6" x2="430.0" y2="196.6" stroke="#22ee22" stroke-width="1"/>
<line x1="427.6" y1="217.4" x2="430.0" y2="217.4" stroke="#22ee22" stroke-width="1"/>
<line x1="450.7" y1="192.5" x2="450.7" y2="214.6" stroke="#22ee22" stroke-width="1"/>
<line x1="449.5" y1="192.5" x2="451.9" y2="192.5" stroke="#22ee22" stroke-width="1"/>
<line x1="449.5" y1="214.6" x2="451.9" y2="214.6" stroke="#22ee22" stroke-width="1"/>
<line x1="472.7" y1="180" x2="472.7" y2="205.3" stroke="#22ee22" stroke-width="1"/>
<line x1="471.5" y1="180" x2="473.9" y2="180" stroke="#22ee22" stroke-width="1"/>
<line x1="471.5" y1="205.3" x2="473.9" y2="205.3" stroke="#22ee22" stroke-width="1"/>
<line x1="494.5" y1="171.3" x2="494.5" y2="198" stroke="#22ee22" stroke-width="1"/>
<line x1="493.3" y1="171.3" x2="495.7" y2="171.3" stroke="#22ee22" stroke-width="1"/>
<line x1="493.3" y1="198" x2="495.7" y2="198" stroke="#22ee22" stroke-width="1"/>
<line x1="549.4" y1="162.6" x2="549.4" y2="187.4" stroke="#22ee22" stroke-width="1"/>
<line x1="548.1999999999999" y1="162.6" x2="550.6" y2="162.6" stroke="#22ee22" stroke-width="1"/>
<line x1="548.1999999999999" y1="187.4" x2="550.6" y2="187.4" stroke="#22ee22" stroke-width="1"/>
<circle cx="407" cy="222.9" r="2.6" fill="#22ee22"/>
<circle cx="428.8" cy="207.1" r="2.6" fill="#22ee22"/>
<circle cx="450.7" cy="203.6" r="2.6" fill="#22ee22"/>
<circle cx="472.7" cy="192.5" r="2.6" fill="#22ee22"/>
<circle cx="494.5" cy="185" r="2.6" fill="#22ee22"/>
<circle cx="549.4" cy="175.0" r="2.6" fill="#22ee22"/>
<line x1="390.8" y1="148.4" x2="403.2" y2="148.4" stroke="#444" stroke-width="1"/>
<circle cx="397.0" cy="148.4" r="2.2" fill="#000"/>
<text x="408.1" y="150.0" font-size="9.5" font-weight="bold" fill="#000" text-anchor="start" textLength="33.3" lengthAdjust="spacingAndGlyphs" >Control</text>
<line x1="390.8" y1="158.3" x2="403.2" y2="158.3" stroke="#22ee22" stroke-width="1"/>
<circle cx="397.0" cy="158.3" r="2.5" fill="#22ee22"/>
<text x="405.5" y="161.3" font-size="10" font-weight="normal" fill="#1a8c1a" text-anchor="start" textLength="63.4" lengthAdjust="spacingAndGlyphs" >TNF-α + IFN-γ</text>
<line x1="390.8" y1="168.1" x2="403.2" y2="168.1" stroke="#ff2a2a" stroke-width="1"/>
<rect x="394.6" y="165.7" width="4.8" height="4.8" fill="#fff" stroke="#ff2a2a" stroke-width="1"/>
<text x="408.1" y="173.3" font-size="9.6" font-weight="bold" fill="#ff2a2a" text-anchor="start" textLength="66.0" lengthAdjust="spacingAndGlyphs" >rFVIII 20 IU/mL</text>
<polyline points="553.0,182.4 559.0,182.4 559.0,215.4 553.0,215.4" fill="none" stroke="#222" stroke-width="1.3"/>
<text x="567.0" y="205.0" font-size="16" font-weight="bold" fill="#000" text-anchor="middle" >*</text>
<text x="194.7" y="274.0" font-size="9.0" font-weight="bold" fill="#000" text-anchor="middle" >0</text>
<text x="216.2" y="275.0" font-size="9.0" font-weight="bold" fill="#000" text-anchor="middle" >1</text>
<text x="238.6" y="275.0" font-size="9.0" font-weight="bold" fill="#000" text-anchor="middle" >2</text>
<text x="261.3" y="273.3" font-size="9.0" font-weight="bold" fill="#000" text-anchor="middle" >3</text>
<text x="281.8" y="274.0" font-size="9.0" font-weight="bold" fill="#000" text-anchor="middle" >4</text>
<text x="305.1" y="273.1" font-size="9.0" font-weight="bold" fill="#000" text-anchor="middle" >5</text>
<text x="323.0" y="272.9" font-size="9.0" font-weight="bold" fill="#000" text-anchor="middle" >18</text>
<text x="340.7" y="273.8" font-size="9.0" font-weight="bold" fill="#000" text-anchor="middle" >19</text>
<text x="360.5" y="273.6" font-size="9.0" font-weight="bold" fill="#000" text-anchor="middle" >20</text>
<text x="385.4" y="273.3" font-size="9.0" font-weight="bold" fill="#000" text-anchor="middle" >0</text>
<text x="406.2" y="274.0" font-size="9.0" font-weight="bold" fill="#000" text-anchor="middle" >1</text>
<text x="428.5" y="274.4" font-size="9.0" font-weight="bold" fill="#000" text-anchor="middle" >2</text>
<text x="451.3" y="272.6" font-size="9.0" font-weight="bold" fill="#000" text-anchor="middle" >3</text>
<text x="471.8" y="273.0" font-size="9.0" font-weight="bold" fill="#000" text-anchor="middle" >4</text>
<text x="495.4" y="272.2" font-size="9.0" font-weight="bold" fill="#000" text-anchor="middle" >5</text>
<text x="513.0" y="272.2" font-size="9.0" font-weight="bold" fill="#000" text-anchor="middle" >18</text>
<text x="530.7" y="272.9" font-size="9.0" font-weight="bold" fill="#000" text-anchor="middle" >19</text>
<text x="550.8" y="272.7" font-size="9.0" font-weight="bold" fill="#000" text-anchor="middle" >20</text>
<line x1="192.6" y1="279.9" x2="557.3" y2="283.4" stroke="#111" stroke-width="1.8"/>
<text x="344.3" y="296.3" font-size="9.3" font-weight="bold" fill="#000" text-anchor="start" textLength="57" lengthAdjust="spacingAndGlyphs" >Time (hours)</text>
<text x="11.4" y="305.9" font-size="15.6" font-weight="bold" fill="#000" text-anchor="start" >B</text>
<text x="17" y="375.1" font-size="9.4" font-weight="bold" fill="#000" text-anchor="middle" >CT</text>
<text x="17" y="477.2" font-size="9.4" font-weight="bold" fill="#000" text-anchor="middle" >rFVIII</text>
<text x="17" y="488.8" font-size="9.4" font-weight="bold" fill="#000" text-anchor="middle" >5 IU/mL</text>
<rect x="35.7" y="314.5" width="105.0" height="124.4" fill="#000"/>
<mask id="cba" maskUnits="userSpaceOnUse" x="35.7" y="314.5" width="105.0" height="124.4"><path d="M93.3,332.5C97.7,332.8 104.0,334.6 108.2,336.7C112.4,338.8 115.2,342.2 118.2,345.0C121.2,347.8 125.0,350.2 126.5,353.3C128.0,356.4 127.4,359.4 127.4,363.3C127.4,367.2 126.4,372.7 126.5,376.6C126.6,380.5 128.8,383.3 128.2,386.6C127.6,389.9 126.0,393.6 123.2,396.6C120.4,399.7 115.5,402.1 111.6,404.9C107.7,407.7 104.1,410.7 99.9,413.2C95.7,415.7 91.0,418.9 86.6,419.9C82.2,420.9 77.2,420.4 73.3,419.0C69.4,417.6 66.1,414.7 63.3,411.5C60.5,408.3 58.4,404.3 56.6,399.9C54.8,395.5 53.5,389.6 52.5,384.9C51.5,380.2 51.5,375.6 50.8,371.6C50.1,367.6 48.1,364.4 48.3,360.8C48.4,357.2 50.0,352.9 51.7,350.0C53.4,347.1 55.2,345.2 58.3,343.3C61.3,341.4 66.1,339.7 70.0,338.3C73.9,336.9 77.7,336.0 81.6,335.0C85.5,334.0 88.9,332.2 93.3,332.5Z" fill="#fff" filter="url(#mb12)"/></mask>
<clipPath id="cia"><rect x="35.7" y="314.5" width="105.0" height="124.4"/></clipPath>
<g clip-path="url(#cia)">
<path d="M93.3,332.5C97.7,332.8 104.0,334.6 108.2,336.7C112.4,338.8 115.2,342.2 118.2,345.0C121.2,347.8 125.0,350.2 126.5,353.3C128.0,356.4 127.4,359.4 127.4,363.3C127.4,367.2 126.4,372.7 126.5,376.6C126.6,380.5 128.8,383.3 128.2,386.6C127.6,389.9 126.0,393.6 123.2,396.6C120.4,399.7 115.5,402.1 111.6,404.9C107.7,407.7 104.1,410.7 99.9,413.2C95.7,415.7 91.0,418.9 86.6,419.9C82.2,420.9 77.2,420.4 73.3,419.0C69.4,417.6 66.1,414.7 63.3,411.5C60.5,408.3 58.4,404.3 56.6,399.9C54.8,395.5 53.5,389.6 52.5,384.9C51.5,380.2 51.5,375.6 50.8,371.6C50.1,367.6 48.1,364.4 48.3,360.8C48.4,357.2 50.0,352.9 51.7,350.0C53.4,347.1 55.2,345.2 58.3,343.3C61.3,341.4 66.1,339.7 70.0,338.3C73.9,336.9 77.7,336.0 81.6,335.0C85.5,334.0 88.9,332.2 93.3,332.5Z" fill="#1a0204" filter="url(#mb15)"/>
<g mask="url(#cba)"><path d="M93.3,332.5C97.7,332.8 104.0,334.6 108.2,336.7C112.4,338.8 115.2,342.2 118.2,345.0C121.2,347.8 125.0,350.2 126.5,353.3C128.0,356.4 127.4,359.4 127.4,363.3C127.4,367.2 126.4,372.7 126.5,376.6C126.6,380.5 128.8,383.3 128.2,386.6C127.6,389.9 126.0,393.6 123.2,396.6C120.4,399.7 115.5,402.1 111.6,404.9C107.7,407.7 104.1,410.7 99.9,413.2C95.7,415.7 91.0,418.9 86.6,419.9C82.2,420.9 77.2,420.4 73.3,419.0C69.4,417.6 66.1,414.7 63.3,411.5C60.5,408.3 58.4,404.3 56.6,399.9C54.8,395.5 53.5,389.6 52.5,384.9C51.5,380.2 51.5,375.6 50.8,371.6C50.1,367.6 48.1,364.4 48.3,360.8C48.4,357.2 50.0,352.9 51.7,350.0C53.4,347.1 55.2,345.2 58.3,343.3C61.3,341.4 66.1,339.7 70.0,338.3C73.9,336.9 77.7,336.0 81.6,335.0C85.5,334.0 88.9,332.2 93.3,332.5Z" fill="none" stroke="#8a0e18" stroke-width="6" opacity="0.35" filter="url(#mb2)"/></g>
<g mask="url(#cba)"><rect x="35.7" y="314.5" width="105.0" height="124.4" fill="#000" filter="url(#texR1)"/></g>
<g mask="url(#cba)" filter="url(#mb05)"><path d="M90.9,380.4 L91.3,383.3 L89.4,384.8 L89.5,387.2M90.9,380.4 L89.3,379.5 L86.0,376.1 L85.0,375.6M81.9,386.4 L84.5,387.7 L86.6,386.2 L89.5,387.2M119.1,393.6 L116.8,388.9 L116.6,385.6 L115.5,381.5M123.3,374.8 L120.1,376.3 L118.0,378.7 L115.5,381.5M148.9,346.4 L138.9,352.8 L127.5,358.1 L116.0,365.2M108.1,369.4 L108.1,374.0 L108.4,376.8 L107.3,380.6M107.3,380.6 L110.1,381.4 L113.1,380.9 L115.5,381.5M117.9,352.8 L116.6,355.6 L115.4,356.7 L114.0,359.1M117.9,352.8 L113.7,348.4 L112.2,347.4 L108.6,342.8M116.0,365.2 L116.3,363.4 L114.0,361.2 L114.0,359.1M109.9,337.5 L109.1,338.9 L109.1,341.3 L108.6,342.8M91.3,359.5 L94.6,359.7 L95.2,357.9 L98.7,358.9M91.3,359.5 L92.7,362.1 L91.9,366.2 L93.6,369.1M102.2,366.2 L99.1,366.8 L98.1,368.2 L95.9,370.4M93.6,369.1 L94.9,369.4 L94.7,369.9 L95.9,370.4M108.0,356.9 L105.7,358.3 L103.2,359.1 L101.9,361.6M98.9,353.4 L100.1,351.2 L104.1,349.8 L105.9,349.3M89.5,387.2 L90.8,388.8 L90.8,388.3 L90.7,388.8M90.7,388.8 L94.6,387.3 L99.8,387.1 L103.9,386.4M109.9,337.5 L103.8,338.1 L99.2,337.9 L94.4,338.0M107.4,344.3 L103.7,345.8 L97.1,344.7 L93.6,346.0M94.4,338.0 L95.3,341.3 L93.5,342.6 L93.6,346.0M81.9,386.4 L79.8,388.6 L78.6,389.6 L77.9,390.2M119.1,393.6 L117.7,393.3 L115.0,393.9 L114.4,394.9M114.4,394.9 L113.4,398.2 L110.0,404.8 L108.7,408.2M76.9,379.4 L76.7,378.9 L77.7,380.5 L79.1,380.3M76.9,379.4 L76.0,380.4 L74.3,382.9 L71.3,383.2M77.9,390.2 L75.1,389.5 L72.6,389.2 L71.4,388.1M71.3,383.2 L70.1,386.0 L70.8,386.7 L71.4,388.1M52.0,365.8 L52.9,362.8 L55.6,363.1 L55.9,359.9M55.9,359.9 L57.1,358.9 L59.0,361.1 L61.4,359.9M94.1,403.7 L93.9,401.4 L94.1,398.1 L92.5,395.6M94.1,403.7 L96.7,402.7 L101.1,403.6 L103.4,402.1M92.5,395.6 L95.8,395.6 L100.1,395.6 L103.6,395.3M103.4,402.1 L102.3,399.3 L102.5,397.7 L103.6,395.3M89.6,411.9 L90.1,409.5 L92.1,407.2 L94.1,403.7M108.7,408.2 L107.8,405.4 L105.2,404.9 L103.4,402.1M105.6,392.4 L106.0,392.6 L105.0,395.5 L103.6,395.3M87.6,411.1 L85.8,407.9 L83.2,405.2 L79.4,404.0M79.1,400.6 L80.0,401.4 L80.0,401.6 L79.0,400.8M30.0,436.9 L41.3,426.5 L52.4,417.6 L65.6,407.2M72.9,408.8 L70.7,407.2 L67.8,406.9 L65.6,407.2M71.3,383.2 L68.8,382.6 L67.2,380.1 L65.5,378.9M65.5,378.9 L66.2,375.7 L66.9,374.0 L67.9,371.3M52.0,365.8 L53.9,368.2 L55.0,369.4 L57.7,370.3M70.1,389.1 L69.7,391.0 L69.7,393.5 L68.7,397.5M65.5,378.9 L60.3,381.0 L56.8,383.1 L51.3,387.1M79.0,400.8 L75.4,398.6 L72.5,398.9 L68.7,397.5M73.0,369.9 L73.9,369.7 L74.7,369.9 L73.8,368.9M77.3,333.6 L76.5,338.1 L77.3,343.4 L76.3,347.8M76.3,347.8 L73.9,348.6 L70.2,348.8 L68.2,351.2M64.0,356.6 L65.1,357.3 L66.5,356.1 L66.6,355.9M74.0,367.4 L70.5,363.4 L69.2,359.7 L67.1,356.1M76.3,347.8 L77.7,349.6 L78.4,351.0 L78.9,352.2M67.1,356.1 L70.4,356.4 L74.2,356.8 L76.3,356.1M74.0,367.4 L75.7,366.2 L76.6,362.4 L77.8,361.1M83.2,352.7 L85.6,350.8 L86.1,348.8 L88.1,346.8M90.4,359.0 L91.6,355.1 L92.4,351.8 L93.2,349.3M78.9,352.2 L80.2,353.0 L82.5,351.8 L83.2,352.7M93.6,346.0 L93.7,346.1 L93.4,346.2 L92.4,347.3M91.3,359.5 L90.0,358.6 L89.6,359.4 L90.4,359.0" stroke="#9a1626" stroke-width="0.9" fill="none" opacity="0.7"/><path d="M85.0,375.6 L82.9,377.8 L79.9,378.6 L79.1,380.3M79.1,380.3 L79.4,383.3 L81.9,383.2 L81.9,386.4M116.0,365.2 L116.9,364.6 L115.6,366.3 L115.9,366.0M115.9,366.0 L119.4,368.7 L121.6,372.2 L123.3,374.8M115.9,366.0 L112.2,366.5 L111.5,368.0 L108.1,369.4M114.0,359.1 L111.8,357.6 L110.1,358.8 L108.0,356.9M108.0,356.9 L107.4,355.2 L106.0,351.9 L105.9,349.3M105.9,349.3 L106.6,347.5 L106.3,346.1 L107.4,344.3M107.4,344.3 L106.6,344.5 L108.9,344.3 L108.6,342.8M148.9,346.4 L139.4,348.6 L128.6,350.5 L117.9,352.8M101.9,361.6 L101.9,362.0 L101.4,363.9 L102.2,366.2M101.9,361.6 L101.7,361.4 L100.5,360.6 L98.7,358.9M108.1,369.4 L106.2,367.6 L104.5,368.0 L102.2,366.2M98.9,353.4 L99.3,355.3 L98.1,358.1 L98.7,358.9M96.3,376.4 L99.4,377.5 L102.7,379.7 L105.4,381.7M96.3,376.4 L95.8,374.7 L95.0,371.9 L95.9,370.4M107.3,380.6 L107.6,380.5 L106.9,380.9 L105.4,381.7M96.3,376.4 L95.1,377.5 L92.1,377.9 L90.9,380.4M105.4,381.7 L103.8,384.0 L105.5,385.0 L103.9,386.4M94.4,338.0 L86.9,329.0 L77.5,318.7 L69.3,307.4M77.9,390.2 L78.2,394.8 L78.0,397.6 L79.1,400.6M90.7,388.8 L91.5,390.1 L90.4,391.4 L90.8,393.5M90.8,393.5 L87.2,397.0 L84.0,397.3 L79.1,400.6M72.2,420.2 L76.3,416.1 L81.3,415.0 L87.6,411.1M89.6,411.9 L89.7,411.2 L88.5,412.0 L87.6,411.1M103.9,386.4 L104.6,389.4 L104.9,389.9 L105.6,392.4M114.4,394.9 L112.3,392.9 L109.0,392.3 L105.6,392.4M28.3,316.1 L39.1,328.8 L52.1,344.0 L64.0,356.6M64.0,356.6 L63.6,358.1 L61.7,358.9 L61.4,359.9M90.8,393.5 L90.9,393.3 L92.0,395.9 L92.5,395.6M79.4,404.0 L79.7,402.2 L79.0,401.1 L79.0,400.8M72.2,420.2 L72.8,415.8 L71.6,413.8 L72.9,408.8M79.4,404.0 L77.4,405.7 L76.0,407.0 L72.9,408.8M73.0,369.9 L70.7,369.1 L69.7,370.8 L67.9,371.3M76.9,379.4 L75.5,376.7 L74.9,372.5 L73.0,369.9M61.4,359.9 L62.8,362.1 L62.6,364.3 L62.7,368.2M57.7,370.3 L58.9,370.1 L61.8,368.6 L62.7,368.2M45.0,390.1 L46.8,389.6 L48.2,389.6 L48.6,387.9M45.0,390.1 L51.8,392.2 L57.6,395.3 L65.0,398.9M70.1,389.1 L64.5,387.3 L58.2,388.3 L51.3,387.1M48.6,387.9 L50.2,387.9 L49.9,388.3 L51.3,387.1M65.0,398.9 L65.3,399.1 L68.2,398.4 L68.7,397.5M57.7,370.3 L54.6,377.1 L52.8,381.6 L48.6,387.9M65.6,407.2 L65.2,403.6 L64.8,400.8 L65.0,398.9M71.4,388.1 L72.1,387.5 L70.8,388.5 L70.1,389.1M67.9,371.3 L65.5,369.7 L64.5,368.7 L62.7,368.2M85.0,375.6 L84.2,374.2 L85.4,372.7 L84.5,370.1M93.6,369.1 L90.8,369.4 L88.6,370.3 L84.8,369.9M84.8,369.9 L84.4,369.5 L83.7,370.8 L84.5,370.1M84.5,370.1 L80.1,369.7 L77.7,368.9 L73.8,368.9M69.3,307.4 L71.6,316.1 L73.4,324.6 L77.3,333.6M68.2,351.2 L67.6,353.5 L66.9,354.9 L66.6,355.9M73.8,368.9 L73.4,367.6 L74.2,368.0 L74.0,367.4M66.6,355.9 L66.9,356.5 L67.8,356.6 L67.1,356.1M78.9,352.2 L78.7,354.3 L77.4,354.4 L76.3,356.1M84.8,369.9 L84.9,366.8 L84.0,363.9 L85.3,360.8M85.3,360.8 L82.6,360.6 L80.7,359.8 L77.8,361.1M77.8,361.1 L78.4,359.9 L76.6,358.3 L76.3,356.1M83.2,352.7 L83.7,354.1 L86.5,356.3 L86.8,359.1M88.1,346.8 L88.7,347.4 L91.5,347.9 L92.4,347.3M90.4,359.0 L90.1,358.6 L87.4,360.2 L86.8,359.1M93.2,349.3 L93.8,347.5 L93.6,348.3 L92.4,347.3M85.3,360.8 L85.0,361.4 L86.2,360.7 L86.8,359.1M77.3,333.6 L81.1,337.4 L84.5,341.5 L88.1,346.8M98.9,353.4 L97.6,351.6 L94.2,350.5 L93.2,349.3" stroke="#5a0c14" stroke-width="0.8" fill="none" opacity="0.7"/></g>
<ellipse cx="56.6" cy="355.0" rx="4.2" ry="2.5" transform="rotate(-37 56.6 355.0)" fill="#1e1e98" filter="url(#mb08)"/>
<ellipse cx="63.3" cy="349.1" rx="4.0" ry="2.9" transform="rotate(37 63.3 349.1)" fill="#1e1e98" filter="url(#mb08)"/>
<ellipse cx="70.8" cy="346.6" rx="3.9" ry="2.5" transform="rotate(27 70.8 346.6)" fill="#1e1e98" filter="url(#mb08)"/>
<ellipse cx="73.3" cy="352.5" rx="3.3" ry="2.8" transform="rotate(-32 73.3 352.5)" fill="#1e1e98" filter="url(#mb08)"/>
<ellipse cx="89.9" cy="340.8" rx="3.6" ry="2.6" transform="rotate(-10 89.9 340.8)" fill="#1e1e98" filter="url(#mb08)"/>
<ellipse cx="98.2" cy="341.6" rx="3.4" ry="2.5" transform="rotate(26 98.2 341.6)" fill="#1e1e98" filter="url(#mb08)"/>
<ellipse cx="99.1" cy="349.1" rx="3.7" ry="2.7" transform="rotate(-23 99.1 349.1)" fill="#1e1e98" filter="url(#mb08)"/>
<ellipse cx="80.8" cy="357.5" rx="4.0" ry="2.5" transform="rotate(7 80.8 357.5)" fill="#1e1e98" filter="url(#mb08)"/>
<ellipse cx="67.5" cy="363.3" rx="4.2" ry="3.0" transform="rotate(-36 67.5 363.3)" fill="#1e1e98" filter="url(#mb08)"/>
<ellipse cx="56.6" cy="364.9" rx="4.1" ry="2.9" transform="rotate(-14 56.6 364.9)" fill="#1e1e98" filter="url(#mb08)"/>
<ellipse cx="89.1" cy="364.9" rx="3.6" ry="2.7" transform="rotate(34 89.1 364.9)" fill="#1e1e98" filter="url(#mb08)"/>
<ellipse cx="95.7" cy="363.3" rx="3.6" ry="2.9" transform="rotate(21 95.7 363.3)" fill="#1e1e98" filter="url(#mb08)"/>
<ellipse cx="108.2" cy="362.4" rx="3.4" ry="2.9" transform="rotate(-39 108.2 362.4)" fill="#1e1e98" filter="url(#mb08)"/>
<ellipse cx="120.7" cy="358.3" rx="3.4" ry="2.8" transform="rotate(-35 120.7 358.3)" fill="#1e1e98" filter="url(#mb08)"/>
<ellipse cx="60.8" cy="374.9" rx="3.6" ry="2.4" transform="rotate(-3 60.8 374.9)" fill="#1e1e98" filter="url(#mb08)"/>
<ellipse cx="71.6" cy="378.3" rx="4.1" ry="2.9" transform="rotate(-37 71.6 378.3)" fill="#1e1e98" filter="url(#mb08)"/>
<ellipse cx="79.9" cy="374.9" rx="3.3" ry="2.9" transform="rotate(-37 79.9 374.9)" fill="#1e1e98" filter="url(#mb08)"/>
<ellipse cx="89.9" cy="374.1" rx="3.5" ry="2.4" transform="rotate(-33 89.9 374.1)" fill="#1e1e98" filter="url(#mb08)"/>
<ellipse cx="102.4" cy="373.3" rx="3.2" ry="2.7" transform="rotate(20 102.4 373.3)" fill="#1e1e98" filter="url(#mb08)"/>
<ellipse cx="113.2" cy="374.1" rx="4.0" ry="2.9" transform="rotate(13 113.2 374.1)" fill="#1e1e98" filter="url(#mb08)"/>
<ellipse cx="66.6" cy="384.9" rx="3.6" ry="2.7" transform="rotate(38 66.6 384.9)" fill="#1e1e98" filter="url(#mb08)"/>
<ellipse cx="96.6" cy="383.2" rx="3.9" ry="2.5" transform="rotate(-35 96.6 383.2)" fill="#1e1e98" filter="url(#mb08)"/>
<ellipse cx="111.6" cy="388.2" rx="4.2" ry="2.7" transform="rotate(-12 111.6 388.2)" fill="#1e1e98" filter="url(#mb08)"/>
<ellipse cx="122.4" cy="384.9" rx="3.9" ry="2.7" transform="rotate(2 122.4 384.9)" fill="#1e1e98" filter="url(#mb08)"/>
<ellipse cx="65.8" cy="392.4" rx="3.3" ry="2.5" transform="rotate(-7 65.8 392.4)" fill="#1e1e98" filter="url(#mb08)"/>
<ellipse cx="83.3" cy="392.4" rx="3.4" ry="2.9" transform="rotate(-6 83.3 392.4)" fill="#1e1e98" filter="url(#mb08)"/>
<ellipse cx="70.0" cy="403.2" rx="3.9" ry="2.8" transform="rotate(19 70.0 403.2)" fill="#1e1e98" filter="url(#mb08)"/>
<ellipse cx="88.3" cy="400.7" rx="4.0" ry="2.8" transform="rotate(-20 88.3 400.7)" fill="#1e1e98" filter="url(#mb08)"/>
<ellipse cx="77.4" cy="413.2" rx="4.3" ry="2.4" transform="rotate(33 77.4 413.2)" fill="#1e1e98" filter="url(#mb08)"/>
<ellipse cx="98.2" cy="392.0" rx="4.1" ry="2.9" transform="rotate(-36 98.2 392.0)" fill="#1e1e98" filter="url(#mb08)"/>
</g>
<rect x="143.5" y="314.5" width="104.6" height="124.4" fill="#000"/>
<mask id="cbb" maskUnits="userSpaceOnUse" x="143.5" y="314.5" width="104.6" height="124.4"><path d="M201.3,330.5C205.7,330.8 212.0,332.6 216.2,334.7C220.3,336.8 223.1,340.2 226.2,343.0C229.2,345.8 233.0,348.2 234.5,351.3C236.0,354.4 235.4,357.4 235.4,361.3C235.4,365.2 234.4,370.7 234.5,374.6C234.6,378.5 236.8,381.3 236.2,384.6C235.6,387.9 234.0,391.6 231.2,394.6C228.4,397.7 223.5,400.1 219.6,402.9C215.7,405.7 212.1,408.7 207.9,411.2C203.7,413.7 199.0,416.9 194.6,417.9C190.2,418.9 185.2,418.4 181.3,417.0C177.4,415.6 174.1,412.7 171.3,409.5C168.5,406.3 166.4,402.3 164.6,397.9C162.8,393.5 161.5,387.6 160.5,382.9C159.5,378.2 159.5,373.6 158.8,369.6C158.1,365.6 156.2,362.4 156.3,358.8C156.5,355.2 158.0,350.9 159.7,348.0C161.4,345.1 163.2,343.2 166.3,341.3C169.4,339.4 174.1,337.7 178.0,336.3C181.9,334.9 185.7,334.0 189.6,333.0C193.5,332.0 196.9,330.2 201.3,330.5Z" fill="#fff" filter="url(#mb12)"/></mask>
<clipPath id="cib"><rect x="143.5" y="314.5" width="104.6" height="124.4"/></clipPath>
<g clip-path="url(#cib)">
<path d="M201.3,330.5C205.7,330.8 212.0,332.6 216.2,334.7C220.3,336.8 223.1,340.2 226.2,343.0C229.2,345.8 233.0,348.2 234.5,351.3C236.0,354.4 235.4,357.4 235.4,361.3C235.4,365.2 234.4,370.7 234.5,374.6C234.6,378.5 236.8,381.3 236.2,384.6C235.6,387.9 234.0,391.6 231.2,394.6C228.4,397.7 223.5,400.1 219.6,402.9C215.7,405.7 212.1,408.7 207.9,411.2C203.7,413.7 199.0,416.9 194.6,417.9C190.2,418.9 185.2,418.4 181.3,417.0C177.4,415.6 174.1,412.7 171.3,409.5C168.5,406.3 166.4,402.3 164.6,397.9C162.8,393.5 161.5,387.6 160.5,382.9C159.5,378.2 159.5,373.6 158.8,369.6C158.1,365.6 156.2,362.4 156.3,358.8C156.5,355.2 158.0,350.9 159.7,348.0C161.4,345.1 163.2,343.2 166.3,341.3C169.4,339.4 174.1,337.7 178.0,336.3C181.9,334.9 185.7,334.0 189.6,333.0C193.5,332.0 196.9,330.2 201.3,330.5Z" fill="#0d0d0d" filter="url(#mb15)"/>
<g mask="url(#cbb)"><path d="M201.3,330.5C205.7,330.8 212.0,332.6 216.2,334.7C220.3,336.8 223.1,340.2 226.2,343.0C229.2,345.8 233.0,348.2 234.5,351.3C236.0,354.4 235.4,357.4 235.4,361.3C235.4,365.2 234.4,370.7 234.5,374.6C234.6,378.5 236.8,381.3 236.2,384.6C235.6,387.9 234.0,391.6 231.2,394.6C228.4,397.7 223.5,400.1 219.6,402.9C215.7,405.7 212.1,408.7 207.9,411.2C203.7,413.7 199.0,416.9 194.6,417.9C190.2,418.9 185.2,418.4 181.3,417.0C177.4,415.6 174.1,412.7 171.3,409.5C168.5,406.3 166.4,402.3 164.6,397.9C162.8,393.5 161.5,387.6 160.5,382.9C159.5,378.2 159.5,373.6 158.8,369.6C158.1,365.6 156.2,362.4 156.3,358.8C156.5,355.2 158.0,350.9 159.7,348.0C161.4,345.1 163.2,343.2 166.3,341.3C169.4,339.4 174.1,337.7 178.0,336.3C181.9,334.9 185.7,334.0 189.6,333.0C193.5,332.0 196.9,330.2 201.3,330.5Z" fill="none" stroke="#5a5a5a" stroke-width="6" opacity="0.3" filter="url(#mb2)"/></g>
<g mask="url(#cbb)"><rect x="143.5" y="314.5" width="104.6" height="124.4" fill="#000" filter="url(#texG2)"/></g>
<ellipse cx="164.6" cy="353.0" rx="4.1" ry="3.1" transform="rotate(-20 164.6 353.0)" fill="#050505" opacity="0.85" filter="url(#mb07)"/>
<ellipse cx="171.3" cy="347.1" rx="3.9" ry="3.1" transform="rotate(-25 171.3 347.1)" fill="#050505" opacity="0.85" filter="url(#mb07)"/>
<ellipse cx="178.8" cy="344.6" rx="4.2" ry="3.2" transform="rotate(-15 178.8 344.6)" fill="#050505" opacity="0.85" filter="url(#mb07)"/>
<ellipse cx="181.3" cy="350.5" rx="3.9" ry="3.2" transform="rotate(29 181.3 350.5)" fill="#050505" opacity="0.85" filter="url(#mb07)"/>
<ellipse cx="197.9" cy="338.8" rx="3.9" ry="3.2" transform="rotate(13 197.9 338.8)" fill="#050505" opacity="0.85" filter="url(#mb07)"/>
<ellipse cx="206.2" cy="339.6" rx="4.7" ry="3.3" transform="rotate(-15 206.2 339.6)" fill="#050505" opacity="0.85" filter="url(#mb07)"/>
<ellipse cx="207.1" cy="347.1" rx="3.9" ry="3.4" transform="rotate(-16 207.1 347.1)" fill="#050505" opacity="0.85" filter="url(#mb07)"/>
<ellipse cx="188.8" cy="355.5" rx="3.7" ry="3.4" transform="rotate(-24 188.8 355.5)" fill="#050505" opacity="0.85" filter="url(#mb07)"/>
<ellipse cx="175.5" cy="361.3" rx="4.0" ry="3.0" transform="rotate(-20 175.5 361.3)" fill="#050505" opacity="0.85" filter="url(#mb07)"/>
<ellipse cx="164.6" cy="362.9" rx="4.5" ry="3.0" transform="rotate(-5 164.6 362.9)" fill="#050505" opacity="0.85" filter="url(#mb07)"/>
<ellipse cx="197.1" cy="362.9" rx="4.2" ry="3.4" transform="rotate(-39 197.1 362.9)" fill="#050505" opacity="0.85" filter="url(#mb07)"/>
<ellipse cx="203.7" cy="361.3" rx="4.3" ry="2.9" transform="rotate(-28 203.7 361.3)" fill="#050505" opacity="0.85" filter="url(#mb07)"/>
<ellipse cx="216.2" cy="360.4" rx="4.4" ry="3.1" transform="rotate(-35 216.2 360.4)" fill="#050505" opacity="0.85" filter="url(#mb07)"/>
<ellipse cx="228.7" cy="356.3" rx="4.3" ry="3.4" transform="rotate(12 228.7 356.3)" fill="#050505" opacity="0.85" filter="url(#mb07)"/>
<ellipse cx="168.8" cy="372.9" rx="4.2" ry="3.4" transform="rotate(33 168.8 372.9)" fill="#050505" opacity="0.85" filter="url(#mb07)"/>
<ellipse cx="179.6" cy="376.3" rx="3.9" ry="3.0" transform="rotate(37 179.6 376.3)" fill="#050505" opacity="0.85" filter="url(#mb07)"/>
<ellipse cx="187.9" cy="372.9" rx="4.7" ry="2.9" transform="rotate(16 187.9 372.9)" fill="#050505" opacity="0.85" filter="url(#mb07)"/>
<ellipse cx="197.9" cy="372.1" rx="4.7" ry="3.2" transform="rotate(16 197.9 372.1)" fill="#050505" opacity="0.85" filter="url(#mb07)"/>
<ellipse cx="210.4" cy="371.3" rx="4.3" ry="3.0" transform="rotate(-23 210.4 371.3)" fill="#050505" opacity="0.85" filter="url(#mb07)"/>
<ellipse cx="221.2" cy="372.1" rx="3.8" ry="3.3" transform="rotate(-29 221.2 372.1)" fill="#050505" opacity="0.85" filter="url(#mb07)"/>
<ellipse cx="174.6" cy="382.9" rx="4.4" ry="3.1" transform="rotate(-5 174.6 382.9)" fill="#050505" opacity="0.85" filter="url(#mb07)"/>
<ellipse cx="204.6" cy="381.2" rx="4.8" ry="3.1" transform="rotate(-2 204.6 381.2)" fill="#050505" opacity="0.85" filter="url(#mb07)"/>
<ellipse cx="219.6" cy="386.2" rx="4.1" ry="3.0" transform="rotate(-22 219.6 386.2)" fill="#050505" opacity="0.85" filter="url(#mb07)"/>
<ellipse cx="230.4" cy="382.9" rx="4.3" ry="3.4" transform="rotate(-33 230.4 382.9)" fill="#050505" opacity="0.85" filter="url(#mb07)"/>
<ellipse cx="173.8" cy="390.4" rx="4.7" ry="3.3" transform="rotate(-36 173.8 390.4)" fill="#050505" opacity="0.85" filter="url(#mb07)"/>
<ellipse cx="191.3" cy="390.4" rx="4.5" ry="3.1" transform="rotate(1 191.3 390.4)" fill="#050505" opacity="0.85" filter="url(#mb07)"/>
<ellipse cx="178.0" cy="401.2" rx="3.8" ry="3.2" transform="rotate(2 178.0 401.2)" fill="#050505" opacity="0.85" filter="url(#mb07)"/>
<ellipse cx="196.3" cy="398.7" rx="4.6" ry="3.2" transform="rotate(16 196.3 398.7)" fill="#050505" opacity="0.85" filter="url(#mb07)"/>
<ellipse cx="185.4" cy="411.2" rx="4.5" ry="3.0" transform="rotate(-38 185.4 411.2)" fill="#050505" opacity="0.85" filter="url(#mb07)"/>
<ellipse cx="206.2" cy="390.0" rx="4.2" ry="2.9" transform="rotate(-29 206.2 390.0)" fill="#050505" opacity="0.85" filter="url(#mb07)"/>
<g mask="url(#cbb)" filter="url(#mb05)"><path d="M189.9,384.4 L191.3,384.5 L194.5,384.6 L197.5,385.2M224.0,363.2 L223.1,363.5 L225.2,364.2 L223.9,364.0M223.9,364.0 L227.3,367.6 L229.4,370.8 L231.3,372.8M225.9,350.8 L223.4,348.0 L219.7,344.3 L216.6,340.8M222.0,357.1 L221.1,356.4 L218.9,355.3 L216.0,354.9M215.4,342.3 L216.7,341.3 L217.2,340.9 L216.6,340.8M209.9,359.6 L210.6,360.1 L210.4,362.1 L210.2,364.2M209.9,359.6 L209.7,357.8 L207.8,358.6 L206.7,356.9M199.3,357.5 L201.0,358.2 L204.0,357.6 L206.7,356.9M199.3,357.5 L199.7,359.9 L201.2,362.9 L201.6,367.1M223.9,364.0 L222.5,364.3 L217.7,365.8 L216.1,367.4M216.1,367.4 L214.8,366.9 L213.2,365.9 L210.2,364.2M206.9,351.4 L205.9,353.1 L207.7,354.1 L206.7,356.9M215.4,342.3 L211.1,342.7 L205.1,343.5 L201.6,344.0M202.4,336.0 L201.0,337.5 L201.0,340.3 L201.6,344.0M181.0,367.9 L181.1,367.0 L181.8,367.6 L181.8,366.9M184.9,377.4 L184.5,377.4 L185.4,378.5 L187.1,378.3M193.0,373.6 L191.9,371.0 L192.1,369.3 L192.5,368.1M201.6,367.1 L199.4,367.1 L195.8,368.7 L192.8,367.9M189.9,384.4 L188.5,385.4 L187.2,386.2 L185.9,388.2M197.5,385.2 L198.5,385.0 L198.4,386.0 L198.7,386.8M198.8,391.5 L195.5,393.6 L190.2,395.3 L187.1,398.6M180.2,418.2 L186.1,415.5 L191.4,412.6 L195.6,409.1M197.6,409.9 L197.3,410.3 L196.8,409.3 L195.6,409.1M213.6,390.4 L212.9,389.2 L211.9,386.5 L211.9,384.4M213.6,390.4 L217.6,392.0 L220.4,392.8 L222.4,392.9M227.1,391.6 L225.3,387.6 L224.1,383.4 L223.5,379.5M223.5,379.5 L222.0,378.3 L217.9,377.8 L215.3,378.6M211.9,384.4 L213.3,384.0 L213.2,380.4 L213.4,379.7M215.3,378.6 L214.0,379.4 L214.5,379.2 L213.4,379.7M216.7,406.2 L218.6,402.3 L219.9,398.3 L222.4,392.9M216.1,367.4 L216.3,370.8 L216.8,375.4 L215.3,378.6M185.9,388.2 L184.3,387.9 L182.2,387.7 L179.4,386.1M179.3,381.2 L179.6,382.6 L179.7,385.6 L179.4,386.1M200.5,393.6 L204.2,394.3 L208.2,394.0 L211.6,393.3M211.4,400.1 L211.9,397.5 L211.0,395.6 L211.6,393.3M216.7,406.2 L213.9,404.8 L212.4,402.8 L211.4,400.1M213.6,390.4 L212.1,391.1 L212.2,391.8 L211.6,393.3M198.8,391.5 L199.5,393.3 L199.6,393.0 L200.5,393.6M195.6,409.1 L192.7,407.6 L189.7,404.7 L187.4,402.0M187.1,398.6 L187.2,399.7 L186.0,399.5 L187.0,398.8M187.4,402.0 L187.6,401.6 L187.5,399.6 L187.0,398.8M138.0,434.9 L149.1,424.6 L162.6,414.4 L173.6,405.2M179.3,381.2 L176.6,379.7 L175.0,379.3 L173.5,376.9M173.5,376.9 L173.6,373.6 L175.5,371.5 L175.9,369.3M169.4,357.9 L170.6,360.0 L171.0,363.7 L170.7,366.2M160.0,363.8 L162.7,364.9 L164.7,367.8 L165.7,368.3M173.0,396.9 L175.0,396.2 L174.9,396.3 L176.7,395.5M165.7,368.3 L162.3,375.1 L158.7,379.0 L156.6,385.9M173.6,405.2 L172.8,402.3 L172.6,399.4 L173.0,396.9M179.4,386.1 L178.3,386.7 L178.1,386.4 L178.1,387.1M177.3,305.4 L180.2,313.6 L183.4,322.9 L185.3,331.6M184.3,345.8 L181.4,347.0 L177.8,347.1 L176.2,349.2M176.2,349.2 L175.2,351.4 L173.9,351.3 L174.6,353.9M181.8,366.9 L181.1,365.6 L182.3,364.9 L182.0,365.4M174.6,353.9 L174.9,353.1 L174.9,353.0 L175.1,354.1M184.3,345.8 L186.1,348.0 L186.1,349.1 L186.9,350.2M186.9,350.2 L185.4,350.4 L184.5,352.5 L184.3,354.1M193.3,358.8 L190.5,358.4 L188.2,358.8 L185.8,359.1M185.8,359.1 L186.0,358.2 L184.9,355.7 L184.3,354.1M191.2,350.7 L193.1,353.9 L193.0,355.4 L194.8,357.1M196.1,344.8 L197.7,345.3 L199.2,345.7 L200.4,345.3M185.3,331.6 L189.4,335.9 L192.8,339.5 L196.1,344.8" stroke="#8c8c8c" stroke-width="0.75" fill="none" opacity="0.5"/><path d="M198.9,378.4 L199.5,379.6 L197.0,383.7 L197.5,385.2M198.9,378.4 L197.3,376.4 L195.2,375.5 L193.0,373.6M193.0,373.6 L190.2,375.0 L188.9,377.2 L187.1,378.3M187.1,378.3 L189.1,380.4 L188.8,381.7 L189.9,384.4M256.9,344.4 L246.1,350.8 L234.6,355.7 L224.0,363.2M225.9,350.8 L225.3,352.5 L224.5,356.1 L222.0,357.1M216.0,354.9 L216.3,352.3 L214.8,350.9 L213.9,347.3M213.9,347.3 L214.4,345.0 L214.4,344.5 L215.4,342.3M256.9,344.4 L247.1,346.6 L236.5,349.0 L225.9,350.8M224.0,363.2 L222.9,360.5 L222.7,360.2 L222.0,357.1M217.9,335.5 L216.5,338.0 L217.6,340.0 L216.6,340.8M210.2,364.2 L207.0,366.1 L204.9,366.4 L203.9,368.4M201.6,367.1 L201.6,366.8 L203.6,367.7 L203.9,368.4M216.0,354.9 L214.6,355.5 L211.6,356.9 L209.9,359.6M206.9,351.4 L209.7,349.9 L210.9,349.0 L213.9,347.3M217.9,335.5 L212.5,335.7 L206.8,337.0 L202.4,336.0M202.4,336.0 L194.1,327.1 L186.9,317.0 L177.3,305.4M184.9,377.4 L184.1,373.7 L182.1,371.2 L181.0,367.9M181.8,366.9 L185.3,366.9 L189.2,367.0 L192.5,368.1M204.3,374.4 L205.3,373.0 L203.9,370.5 L203.9,368.4M204.3,374.4 L201.4,375.5 L200.8,376.3 L198.9,378.4M192.8,367.9 L192.2,369.1 L192.3,366.9 L192.5,368.1M185.9,388.2 L185.3,391.2 L187.5,395.5 L187.1,398.6M198.7,386.8 L197.7,387.9 L198.4,391.0 L198.8,391.5M227.1,391.6 L226.6,392.2 L224.8,391.4 L222.4,392.9M231.3,372.8 L227.8,375.1 L227.2,377.8 L223.5,379.5M204.3,374.4 L206.5,376.0 L209.2,378.1 L213.4,379.7M198.7,386.8 L202.2,386.1 L207.3,385.0 L211.9,384.4M184.9,377.4 L184.1,379.1 L181.1,381.0 L179.3,381.2M160.0,363.8 L160.1,361.8 L163.1,360.9 L163.9,357.9M136.3,314.1 L148.8,326.3 L160.9,341.4 L172.0,354.6M172.0,354.6 L172.1,356.6 L169.3,357.6 L169.4,357.9M163.9,357.9 L165.0,358.5 L167.7,357.2 L169.4,357.9M202.1,401.7 L200.7,399.3 L200.9,395.7 L200.5,393.6M202.1,401.7 L205.1,400.5 L209.3,399.6 L211.4,400.1M197.6,409.9 L198.9,407.6 L201.3,405.4 L202.1,401.7M180.2,418.2 L179.5,414.7 L180.4,410.7 L180.9,406.8M187.4,402.0 L186.0,403.9 L182.7,404.5 L180.9,406.8M180.9,406.8 L178.2,405.9 L175.7,404.7 L173.6,405.2M181.0,367.9 L179.2,368.7 L178.6,368.4 L175.9,369.3M165.7,368.3 L167.8,368.7 L169.6,367.5 L170.7,366.2M153.0,388.1 L155.2,388.0 L156.5,386.1 L156.6,385.9M153.0,388.1 L160.0,390.7 L165.9,393.1 L173.0,396.9M178.1,387.1 L171.6,386.4 L166.7,385.0 L159.3,385.1M178.1,387.1 L176.7,388.7 L176.8,392.3 L176.7,395.5M156.6,385.9 L158.4,386.2 L158.3,385.4 L159.3,385.1M173.5,376.9 L167.8,378.7 L165.0,382.1 L159.3,385.1M187.0,398.8 L182.7,397.8 L181.0,396.2 L176.7,395.5M175.9,369.3 L174.4,368.0 L173.6,367.0 L170.7,366.2M185.3,331.6 L185.0,337.5 L185.8,341.8 L184.3,345.8M172.0,354.6 L171.9,355.4 L174.1,355.1 L174.6,353.9M182.0,365.4 L180.0,360.6 L178.4,357.3 L175.1,354.1M175.1,354.1 L177.2,354.1 L180.3,353.2 L184.3,354.1M182.0,365.4 L184.1,364.2 L185.0,361.2 L185.8,359.1M192.8,367.9 L192.1,364.0 L193.9,362.2 L193.3,358.8M191.2,350.7 L193.2,347.6 L194.6,346.1 L196.1,344.8M198.4,357.0 L199.3,352.7 L200.9,351.4 L201.2,347.3M198.4,357.0 L197.5,355.9 L195.3,356.1 L194.8,357.1M201.2,347.3 L201.0,345.9 L201.8,347.1 L200.4,345.3M186.9,350.2 L188.3,349.9 L189.1,351.3 L191.2,350.7M193.3,358.8 L193.3,359.2 L194.5,357.5 L194.8,357.1M201.6,344.0 L200.7,345.4 L200.1,344.4 L200.4,345.3M206.9,351.4 L204.8,350.1 L204.2,348.0 L201.2,347.3M199.3,357.5 L199.5,358.0 L198.6,357.0 L198.4,357.0" stroke="#404040" stroke-width="0.75" fill="none" opacity="0.75"/></g>
</g>
<rect x="35.7" y="441.0" width="105.0" height="124.4" fill="#000"/>
<mask id="cbc" maskUnits="userSpaceOnUse" x="35.7" y="441.0" width="105.0" height="124.4"><path d="M125.4,499.5C125.4,503.5 125.2,507.7 124.0,511.5C122.8,515.3 120.9,519.2 118.2,522.3C115.6,525.3 111.5,527.5 108.3,529.8C105.0,532.0 102.4,534.6 98.8,535.6C95.2,536.6 90.5,536.0 86.5,535.8C82.5,535.6 78.4,535.4 74.6,534.4C70.8,533.5 66.8,532.3 63.8,530.0C60.8,527.8 58.8,524.1 56.6,521.0C54.4,518.0 52.1,515.1 50.5,511.5C49.0,507.9 47.4,503.4 47.2,499.5C46.9,495.6 47.7,491.8 49.0,488.2C50.3,484.7 52.4,481.4 55.1,478.1C57.7,474.8 61.5,470.5 64.8,468.3C68.1,466.0 71.3,465.9 74.9,464.6C78.5,463.4 82.6,461.2 86.5,460.9C90.4,460.5 94.4,461.2 98.2,462.5C102.0,463.8 106.1,466.4 109.2,468.7C112.3,471.1 114.5,473.6 116.9,476.7C119.3,479.8 122.3,483.7 123.7,487.5C125.1,491.3 125.3,495.5 125.4,499.5Z" fill="#fff" filter="url(#mb12)"/></mask>
<clipPath id="cic"><rect x="35.7" y="441.0" width="105.0" height="124.4"/></clipPath>
<g clip-path="url(#cic)">
<path d="M125.4,499.5C125.4,503.5 125.2,507.7 124.0,511.5C122.8,515.3 120.9,519.2 118.2,522.3C115.6,525.3 111.5,527.5 108.3,529.8C105.0,532.0 102.4,534.6 98.8,535.6C95.2,536.6 90.5,536.0 86.5,535.8C82.5,535.6 78.4,535.4 74.6,534.4C70.8,533.5 66.8,532.3 63.8,530.0C60.8,527.8 58.8,524.1 56.6,521.0C54.4,518.0 52.1,515.1 50.5,511.5C49.0,507.9 47.4,503.4 47.2,499.5C46.9,495.6 47.7,491.8 49.0,488.2C50.3,484.7 52.4,481.4 55.1,478.1C57.7,474.8 61.5,470.5 64.8,468.3C68.1,466.0 71.3,465.9 74.9,464.6C78.5,463.4 82.6,461.2 86.5,460.9C90.4,460.5 94.4,461.2 98.2,462.5C102.0,463.8 106.1,466.4 109.2,468.7C112.3,471.1 114.5,473.6 116.9,476.7C119.3,479.8 122.3,483.7 123.7,487.5C125.1,491.3 125.3,495.5 125.4,499.5Z" fill="#1a0204" filter="url(#mb15)"/>
<g mask="url(#cbc)"><path d="M125.4,499.5C125.4,503.5 125.2,507.7 124.0,511.5C122.8,515.3 120.9,519.2 118.2,522.3C115.6,525.3 111.5,527.5 108.3,529.8C105.0,532.0 102.4,534.6 98.8,535.6C95.2,536.6 90.5,536.0 86.5,535.8C82.5,535.6 78.4,535.4 74.6,534.4C70.8,533.5 66.8,532.3 63.8,530.0C60.8,527.8 58.8,524.1 56.6,521.0C54.4,518.0 52.1,515.1 50.5,511.5C49.0,507.9 47.4,503.4 47.2,499.5C46.9,495.6 47.7,491.8 49.0,488.2C50.3,484.7 52.4,481.4 55.1,478.1C57.7,474.8 61.5,470.5 64.8,468.3C68.1,466.0 71.3,465.9 74.9,464.6C78.5,463.4 82.6,461.2 86.5,460.9C90.4,460.5 94.4,461.2 98.2,462.5C102.0,463.8 106.1,466.4 109.2,468.7C112.3,471.1 114.5,473.6 116.9,476.7C119.3,479.8 122.3,483.7 123.7,487.5C125.1,491.3 125.3,495.5 125.4,499.5Z" fill="none" stroke="#8a0e18" stroke-width="6" opacity="0.35" filter="url(#mb2)"/></g>
<g mask="url(#cbc)"><rect x="35.7" y="441.0" width="105.0" height="124.4" fill="#000" filter="url(#texR3)"/></g>
<g mask="url(#cbc)" filter="url(#mb05)"><path d="M93.6,526.9 L95.4,525.0 L97.3,524.2 L98.8,522.3M104.2,528.3 L101.3,527.1 L100.1,523.7 L98.8,522.3M106.3,471.9 L106.4,475.5 L105.9,477.8 L105.6,479.9M120.7,478.3 L116.8,478.8 L111.6,480.4 L106.2,480.2M64.0,507.4 L62.6,509.6 L62.1,512.2 L60.9,513.2M61.1,515.9 L61.9,516.2 L61.9,514.3 L60.9,513.2M106.2,480.2 L108.7,484.4 L108.5,486.9 L111.2,489.3M115.4,490.8 L113.2,489.8 L113.3,490.7 L111.2,489.3M129.0,498.0 L124.9,494.9 L120.9,493.6 L115.9,492.0M111.2,489.3 L109.5,488.8 L106.5,490.3 L105.2,491.1M112.7,519.8 L109.1,518.9 L105.3,517.1 L102.1,516.2M102.1,516.2 L100.7,517.3 L99.4,517.5 L98.7,518.7M101.9,481.3 L99.8,479.4 L95.5,478.6 L93.3,477.4M95.1,471.9 L94.8,461.9 L92.5,453.8 L91.8,443.8M91.8,443.8 L89.9,451.0 L85.8,456.0 L83.9,463.1M84.9,510.5 L83.9,508.1 L81.1,506.6 L79.7,504.9M79.7,504.9 L77.0,507.8 L73.9,507.5 L72.2,510.7M79.3,516.1 L80.6,517.5 L80.3,520.8 L81.6,522.6M81.6,522.6 L80.9,523.4 L79.2,523.9 L77.0,525.1M129.0,498.0 L125.7,501.3 L121.4,503.8 L118.8,505.8M119.0,518.9 L118.9,519.5 L117.7,517.8 L118.9,518.9M54.5,500.3 L56.2,497.3 L60.8,497.2 L62.4,494.3M64.7,507.2 L64.5,506.9 L63.8,507.0 L64.0,507.4M69.1,498.9 L67.0,497.9 L64.4,494.8 L62.4,494.3M72.2,510.7 L69.4,509.8 L67.9,508.1 L64.7,507.2M62.2,490.3 L62.2,490.7 L63.0,493.3 L62.4,494.3M73.5,474.7 L69.2,473.7 L63.6,475.8 L59.8,475.3M62.2,490.3 L62.7,488.1 L66.1,487.1 L66.7,486.7M59.8,475.3 L62.9,478.1 L65.2,483.2 L66.7,486.7M73.1,523.7 L67.8,529.0 L64.3,536.0 L59.4,541.4M70.9,519.9 L68.8,519.6 L66.9,519.6 L65.4,519.8M59.4,541.4 L61.4,535.4 L63.2,527.8 L65.4,519.8M77.0,525.1 L76.2,525.3 L74.8,524.3 L73.1,523.7M73.5,515.1 L73.0,517.6 L70.9,517.3 L70.9,519.9M115.9,492.0 L114.1,493.3 L113.7,495.7 L112.2,498.3M118.8,505.8 L117.4,506.0 L114.6,504.6 L113.3,503.2M112.2,498.3 L113.4,500.1 L112.3,500.9 L113.3,503.2M118.9,518.9 L115.1,515.0 L110.7,511.3 L107.7,508.0M113.3,503.2 L112.1,503.9 L110.8,506.3 L107.7,508.0M104.3,508.1 L105.9,508.9 L106.3,508.6 L107.7,508.0M89.7,479.3 L87.6,478.9 L87.9,478.5 L85.7,476.7M85.7,476.7 L83.0,476.3 L78.4,477.2 L74.9,476.7M80.1,488.7 L77.3,487.3 L75.9,484.0 L74.6,482.0M79.5,501.0 L81.9,500.3 L86.7,498.9 L88.7,498.2M83.9,463.1 L85.4,467.9 L84.2,473.1 L85.7,476.7M73.5,474.7 L73.5,475.9 L74.6,476.2 L74.9,476.7M103.3,496.5 L103.5,498.0 L103.3,497.6 L104.9,498.2M104.9,498.2 L105.2,500.9 L103.8,504.2 L103.9,507.6M103.9,507.6 L99.7,505.6 L98.2,506.1 L94.3,504.4M93.9,502.4 L93.3,502.9 L94.7,504.5 L94.3,504.4M112.2,498.3 L110.5,499.2 L108.5,497.9 L104.9,498.2M88.7,498.2 L91.3,499.6 L92.4,501.6 L93.9,502.4M89.6,511.6 L91.8,509.6 L92.7,506.9 L94.3,504.4" stroke="#9a1626" stroke-width="0.9" fill="none" opacity="0.7"/><path d="M147.1,452.7 L138.3,462.0 L129.6,469.9 L120.7,478.3M105.6,479.9 L104.7,480.6 L106.2,479.6 L106.2,480.2M93.6,526.9 L92.2,525.9 L89.5,525.3 L86.3,524.7M80.4,559.2 L83.3,546.9 L83.4,535.8 L86.3,524.7M54.5,500.3 L57.5,502.9 L60.3,505.0 L64.0,507.4M28.2,548.7 L40.1,538.7 L51.1,527.5 L61.1,515.9M120.7,478.3 L118.3,483.2 L117.4,486.0 L115.4,490.8M115.4,490.8 L116.7,491.2 L116.9,491.1 L115.9,492.0M105.6,479.9 L103.5,479.3 L104.0,480.4 L101.9,481.3M101.9,481.3 L102.5,482.9 L101.1,485.1 L100.8,486.9M100.8,486.9 L102.5,488.4 L104.0,490.8 L105.2,491.1M85.6,523.5 L85.7,524.4 L85.4,523.8 L86.3,524.7M85.6,523.5 L87.4,520.7 L87.9,517.5 L90.9,514.7M98.8,522.3 L97.7,521.4 L99.1,518.8 L98.7,518.7M90.9,514.7 L93.4,516.4 L95.7,517.8 L98.7,518.7M104.2,528.3 L105.9,524.4 L110.2,523.8 L112.7,519.8M106.3,471.9 L101.4,472.1 L99.4,471.5 L95.1,471.9M93.3,477.4 L92.9,475.2 L94.0,474.6 L95.1,471.9M73.9,472.5 L77.1,468.7 L79.6,466.4 L83.9,463.1M84.9,510.5 L83.4,513.1 L80.8,513.3 L79.3,516.1M72.2,510.7 L73.6,513.3 L72.9,514.7 L73.5,515.1M73.5,515.1 L74.8,516.0 L78.1,516.2 L79.3,516.1M89.6,511.6 L89.5,512.3 L89.8,512.6 L90.9,514.7M84.9,510.5 L85.9,511.6 L86.9,512.2 L89.6,511.6M85.6,523.5 L85.3,524.1 L83.9,523.1 L81.6,522.6M80.4,559.2 L79.1,549.0 L78.4,536.3 L77.0,525.1M118.8,505.8 L119.6,510.9 L117.7,514.7 L119.0,518.9M112.7,519.8 L113.6,519.0 L116.2,519.3 L118.9,518.9M64.7,507.2 L66.3,504.1 L66.9,501.3 L69.1,498.9M79.7,504.9 L80.0,503.4 L79.3,502.3 L79.5,501.0M79.5,501.0 L78.1,500.1 L76.9,497.6 L75.7,496.7M75.7,496.7 L75.6,495.7 L74.4,496.5 L73.9,496.7M69.1,498.9 L71.8,497.9 L73.3,498.1 L73.9,496.7M73.9,472.5 L74.5,473.6 L74.2,474.1 L73.5,474.7M73.9,496.7 L72.9,493.6 L70.5,489.0 L67.6,486.8M66.7,486.7 L67.0,487.2 L66.3,487.3 L67.6,486.8M73.1,523.7 L71.3,522.0 L71.8,522.0 L70.9,519.9M61.1,515.9 L63.5,517.3 L63.8,519.0 L65.4,519.8M102.1,516.2 L102.8,514.4 L104.3,511.0 L104.3,508.1M88.0,487.1 L85.3,487.0 L82.1,488.7 L80.1,488.7M88.0,487.1 L89.7,485.4 L88.5,481.2 L89.7,479.3M74.9,476.7 L75.2,477.3 L74.3,480.1 L74.6,482.0M75.7,496.7 L76.2,493.5 L79.0,490.5 L80.1,488.7M88.7,498.2 L89.9,494.1 L90.2,491.7 L89.3,488.7M89.3,488.7 L89.5,487.7 L88.9,488.0 L88.0,487.1M95.9,490.3 L93.2,490.4 L92.7,489.7 L89.3,488.7M100.8,486.9 L98.3,488.0 L97.2,489.7 L95.9,490.3M93.3,477.4 L92.2,477.3 L91.2,479.0 L89.7,479.3M67.6,486.8 L69.8,484.7 L71.4,482.6 L74.6,482.0M103.3,496.5 L102.5,496.6 L101.0,496.2 L98.9,496.6M98.9,496.6 L97.9,498.2 L96.4,499.5 L93.9,502.4M95.9,490.3 L97.1,491.5 L97.6,493.7 L98.9,496.6M105.2,491.1 L104.8,492.2 L103.4,495.4 L103.3,496.5M104.3,508.1 L104.4,508.3 L105.2,508.3 L103.9,507.6" stroke="#5a0c14" stroke-width="0.8" fill="none" opacity="0.7"/></g>
<ellipse cx="86" cy="500" rx="20" ry="20" fill="#000" opacity="0.5" filter="url(#mb3)"/>
<ellipse cx="81.3" cy="471.6" rx="3.7" ry="2.4" transform="rotate(2 81.3 471.6)" fill="#2424b8" filter="url(#mb08)"/>
<ellipse cx="101.0" cy="469.2" rx="3.2" ry="2.7" transform="rotate(12 101.0 469.2)" fill="#2424b8" filter="url(#mb08)"/>
<ellipse cx="101.0" cy="474.7" rx="3.7" ry="2.7" transform="rotate(37 101.0 474.7)" fill="#2424b8" filter="url(#mb08)"/>
<ellipse cx="67.9" cy="481.0" rx="4.2" ry="2.4" transform="rotate(23 67.9 481.0)" fill="#2424b8" filter="url(#mb08)"/>
<ellipse cx="81.3" cy="481.8" rx="3.9" ry="2.3" transform="rotate(-11 81.3 481.8)" fill="#2424b8" filter="url(#mb08)"/>
<ellipse cx="112.0" cy="483.4" rx="3.5" ry="2.4" transform="rotate(3 112.0 483.4)" fill="#2424b8" filter="url(#mb08)"/>
<ellipse cx="96.3" cy="485.0" rx="4.2" ry="2.5" transform="rotate(30 96.3 485.0)" fill="#2424b8" filter="url(#mb08)"/>
<ellipse cx="57.6" cy="492.9" rx="4.0" ry="2.4" transform="rotate(29 57.6 492.9)" fill="#2424b8" filter="url(#mb08)"/>
<ellipse cx="62.4" cy="499.2" rx="3.9" ry="2.9" transform="rotate(17 62.4 499.2)" fill="#2424b8" filter="url(#mb08)"/>
<ellipse cx="93.9" cy="495.2" rx="4.0" ry="2.5" transform="rotate(25 93.9 495.2)" fill="#2424b8" filter="url(#mb08)"/>
<ellipse cx="108.1" cy="494.4" rx="4.2" ry="2.9" transform="rotate(-5 108.1 494.4)" fill="#2424b8" filter="url(#mb08)"/>
<ellipse cx="117.6" cy="500.0" rx="4.0" ry="2.6" transform="rotate(-31 117.6 500.0)" fill="#2424b8" filter="url(#mb08)"/>
<ellipse cx="72.6" cy="504.7" rx="3.2" ry="2.4" transform="rotate(-24 72.6 504.7)" fill="#2424b8" filter="url(#mb08)"/>
<ellipse cx="86.8" cy="503.9" rx="3.4" ry="2.6" transform="rotate(16 86.8 503.9)" fill="#2424b8" filter="url(#mb08)"/>
<ellipse cx="113.6" cy="508.6" rx="3.8" ry="2.6" transform="rotate(12 113.6 508.6)" fill="#2424b8" filter="url(#mb08)"/>
<ellipse cx="97.8" cy="511.0" rx="3.5" ry="2.6" transform="rotate(21 97.8 511.0)" fill="#2424b8" filter="url(#mb08)"/>
<ellipse cx="67.9" cy="514.9" rx="3.6" ry="2.4" transform="rotate(32 67.9 514.9)" fill="#2424b8" filter="url(#mb08)"/>
<ellipse cx="83.6" cy="517.3" rx="4.0" ry="2.6" transform="rotate(-10 83.6 517.3)" fill="#2424b8" filter="url(#mb08)"/>
<ellipse cx="60.8" cy="522.8" rx="3.8" ry="2.7" transform="rotate(-22 60.8 522.8)" fill="#2424b8" filter="url(#mb08)"/>
<ellipse cx="105.7" cy="522.0" rx="3.2" ry="2.4" transform="rotate(23 105.7 522.0)" fill="#2424b8" filter="url(#mb08)"/>
<ellipse cx="110.5" cy="526.8" rx="3.4" ry="2.6" transform="rotate(-24 110.5 526.8)" fill="#2424b8" filter="url(#mb08)"/>
<ellipse cx="73.4" cy="529.1" rx="3.4" ry="2.4" transform="rotate(-8 73.4 529.1)" fill="#2424b8" filter="url(#mb08)"/>
<ellipse cx="81.3" cy="528.3" rx="3.4" ry="2.3" transform="rotate(-31 81.3 528.3)" fill="#2424b8" filter="url(#mb08)"/>
<ellipse cx="97.8" cy="529.1" rx="3.4" ry="2.6" transform="rotate(-35 97.8 529.1)" fill="#2424b8" filter="url(#mb08)"/>
</g>
<rect x="143.5" y="441.0" width="104.6" height="124.4" fill="#000"/>
<mask id="cbd" maskUnits="userSpaceOnUse" x="143.5" y="441.0" width="104.6" height="124.4"><path d="M233.9,499.5C233.9,503.5 233.7,507.7 232.5,511.5C231.3,515.3 229.4,519.2 226.7,522.3C224.1,525.3 220.0,527.5 216.8,529.8C213.5,532.0 210.9,534.6 207.3,535.6C203.7,536.6 199.0,536.0 195.0,535.8C191.0,535.6 186.9,535.4 183.1,534.4C179.3,533.5 175.3,532.3 172.3,530.0C169.3,527.8 167.3,524.1 165.1,521.0C162.9,518.0 160.6,515.1 159.0,511.5C157.5,507.9 155.9,503.4 155.7,499.5C155.4,495.6 156.2,491.8 157.5,488.2C158.8,484.7 160.9,481.4 163.6,478.1C166.2,474.8 170.0,470.5 173.3,468.3C176.6,466.0 179.8,465.9 183.4,464.6C187.0,463.4 191.1,461.2 195.0,460.9C198.9,460.5 202.9,461.2 206.7,462.5C210.5,463.8 214.6,466.4 217.7,468.7C220.8,471.1 223.0,473.6 225.4,476.7C227.8,479.8 230.8,483.7 232.2,487.5C233.6,491.3 233.8,495.5 233.9,499.5Z" fill="#fff" filter="url(#mb12)"/></mask>
<clipPath id="cid"><rect x="143.5" y="441.0" width="104.6" height="124.4"/></clipPath>
<g clip-path="url(#cid)">
<path d="M233.9,499.5C233.9,503.5 233.7,507.7 232.5,511.5C231.3,515.3 229.4,519.2 226.7,522.3C224.1,525.3 220.0,527.5 216.8,529.8C213.5,532.0 210.9,534.6 207.3,535.6C203.7,536.6 199.0,536.0 195.0,535.8C191.0,535.6 186.9,535.4 183.1,534.4C179.3,533.5 175.3,532.3 172.3,530.0C169.3,527.8 167.3,524.1 165.1,521.0C162.9,518.0 160.6,515.1 159.0,511.5C157.5,507.9 155.9,503.4 155.7,499.5C155.4,495.6 156.2,491.8 157.5,488.2C158.8,484.7 160.9,481.4 163.6,478.1C166.2,474.8 170.0,470.5 173.3,468.3C176.6,466.0 179.8,465.9 183.4,464.6C187.0,463.4 191.1,461.2 195.0,460.9C198.9,460.5 202.9,461.2 206.7,462.5C210.5,463.8 214.6,466.4 217.7,468.7C220.8,471.1 223.0,473.6 225.4,476.7C227.8,479.8 230.8,483.7 232.2,487.5C233.6,491.3 233.8,495.5 233.9,499.5Z" fill="#0d0d0d" filter="url(#mb15)"/>
<g mask="url(#cbd)"><path d="M233.9,499.5C233.9,503.5 233.7,507.7 232.5,511.5C231.3,515.3 229.4,519.2 226.7,522.3C224.1,525.3 220.0,527.5 216.8,529.8C213.5,532.0 210.9,534.6 207.3,535.6C203.7,536.6 199.0,536.0 195.0,535.8C191.0,535.6 186.9,535.4 183.1,534.4C179.3,533.5 175.3,532.3 172.3,530.0C169.3,527.8 167.3,524.1 165.1,521.0C162.9,518.0 160.6,515.1 159.0,511.5C157.5,507.9 155.9,503.4 155.7,499.5C155.4,495.6 156.2,491.8 157.5,488.2C158.8,484.7 160.9,481.4 163.6,478.1C166.2,474.8 170.0,470.5 173.3,468.3C176.6,466.0 179.8,465.9 183.4,464.6C187.0,463.4 191.1,461.2 195.0,460.9C198.9,460.5 202.9,461.2 206.7,462.5C210.5,463.8 214.6,466.4 217.7,468.7C220.8,471.1 223.0,473.6 225.4,476.7C227.8,479.8 230.8,483.7 232.2,487.5C233.6,491.3 233.8,495.5 233.9,499.5Z" fill="none" stroke="#5a5a5a" stroke-width="18" opacity="0.38" filter="url(#mb2)"/></g>
<g mask="url(#cbd)"><rect x="143.5" y="441.0" width="104.6" height="124.4" fill="#000" filter="url(#texG4)"/></g>
<ellipse cx="189.8" cy="471.6" rx="4.5" ry="3.5" transform="rotate(-35 189.8 471.6)" fill="#050505" opacity="0.85" filter="url(#mb07)"/>
<ellipse cx="209.5" cy="469.2" rx="4.7" ry="3.3" transform="rotate(13 209.5 469.2)" fill="#050505" opacity="0.85" filter="url(#mb07)"/>
<ellipse cx="209.5" cy="474.7" rx="4.6" ry="2.9" transform="rotate(-24 209.5 474.7)" fill="#050505" opacity="0.85" filter="url(#mb07)"/>
<ellipse cx="176.4" cy="481.0" rx="3.9" ry="3.1" transform="rotate(4 176.4 481.0)" fill="#050505" opacity="0.85" filter="url(#mb07)"/>
<ellipse cx="189.8" cy="481.8" rx="4.3" ry="3.1" transform="rotate(19 189.8 481.8)" fill="#050505" opacity="0.85" filter="url(#mb07)"/>
<ellipse cx="220.5" cy="483.4" rx="4.6" ry="3.3" transform="rotate(-37 220.5 483.4)" fill="#050505" opacity="0.85" filter="url(#mb07)"/>
<ellipse cx="204.8" cy="485.0" rx="3.9" ry="3.0" transform="rotate(-21 204.8 485.0)" fill="#050505" opacity="0.85" filter="url(#mb07)"/>
<ellipse cx="166.1" cy="492.9" rx="4.3" ry="2.9" transform="rotate(10 166.1 492.9)" fill="#050505" opacity="0.85" filter="url(#mb07)"/>
<ellipse cx="170.9" cy="499.2" rx="4.1" ry="3.1" transform="rotate(17 170.9 499.2)" fill="#050505" opacity="0.85" filter="url(#mb07)"/>
<ellipse cx="202.4" cy="495.2" rx="4.7" ry="2.9" transform="rotate(-12 202.4 495.2)" fill="#050505" opacity="0.85" filter="url(#mb07)"/>
<ellipse cx="216.6" cy="494.4" rx="4.8" ry="2.9" transform="rotate(-38 216.6 494.4)" fill="#050505" opacity="0.85" filter="url(#mb07)"/>
<ellipse cx="226.1" cy="500.0" rx="3.9" ry="3.4" transform="rotate(19 226.1 500.0)" fill="#050505" opacity="0.85" filter="url(#mb07)"/>
<ellipse cx="181.1" cy="504.7" rx="4.7" ry="3.1" transform="rotate(-37 181.1 504.7)" fill="#050505" opacity="0.85" filter="url(#mb07)"/>
<ellipse cx="195.3" cy="503.9" rx="4.0" ry="3.3" transform="rotate(-9 195.3 503.9)" fill="#050505" opacity="0.85" filter="url(#mb07)"/>
<ellipse cx="222.1" cy="508.6" rx="3.9" ry="3.1" transform="rotate(-3 222.1 508.6)" fill="#050505" opacity="0.85" filter="url(#mb07)"/>
<ellipse cx="206.3" cy="511.0" rx="4.1" ry="3.1" transform="rotate(-29 206.3 511.0)" fill="#050505" opacity="0.85" filter="url(#mb07)"/>
<ellipse cx="176.4" cy="514.9" rx="3.7" ry="3.3" transform="rotate(19 176.4 514.9)" fill="#050505" opacity="0.85" filter="url(#mb07)"/>
<ellipse cx="192.1" cy="517.3" rx="4.2" ry="2.9" transform="rotate(-16 192.1 517.3)" fill="#050505" opacity="0.85" filter="url(#mb07)"/>
<ellipse cx="169.3" cy="522.8" rx="4.3" ry="3.4" transform="rotate(-1 169.3 522.8)" fill="#050505" opacity="0.85" filter="url(#mb07)"/>
<ellipse cx="214.2" cy="522.0" rx="4.8" ry="3.2" transform="rotate(-26 214.2 522.0)" fill="#050505" opacity="0.85" filter="url(#mb07)"/>
<ellipse cx="219.0" cy="526.8" rx="4.4" ry="3.2" transform="rotate(8 219.0 526.8)" fill="#050505" opacity="0.85" filter="url(#mb07)"/>
<ellipse cx="181.9" cy="529.1" rx="4.5" ry="2.8" transform="rotate(-5 181.9 529.1)" fill="#050505" opacity="0.85" filter="url(#mb07)"/>
<ellipse cx="189.8" cy="528.3" rx="4.6" ry="2.9" transform="rotate(-37 189.8 528.3)" fill="#050505" opacity="0.85" filter="url(#mb07)"/>
<ellipse cx="206.3" cy="529.1" rx="3.9" ry="3.0" transform="rotate(-5 206.3 529.1)" fill="#050505" opacity="0.85" filter="url(#mb07)"/>
<g mask="url(#cbd)" filter="url(#mb05)"><path d="M202.1,526.9 L202.9,525.1 L204.7,522.8 L207.3,522.3M212.7,528.3 L211.9,527.0 L209.8,523.7 L207.3,522.3M214.1,479.9 L214.6,480.5 L215.3,481.0 L214.7,480.2M229.2,478.3 L224.6,479.3 L219.6,478.7 L214.7,480.2M202.1,526.9 L198.7,527.2 L198.2,525.6 L194.8,524.7M188.9,559.2 L191.9,548.0 L193.7,537.3 L194.8,524.7M172.5,507.4 L172.2,508.3 L169.3,511.6 L169.4,513.2M136.7,548.7 L147.7,537.8 L158.1,528.3 L169.6,515.9M169.6,515.9 L169.3,514.3 L169.8,513.6 L169.4,513.2M229.2,478.3 L228.0,482.0 L225.8,487.5 L223.9,490.8M214.7,480.2 L215.3,482.5 L218.6,486.5 L219.7,489.3M223.9,490.8 L222.1,489.5 L221.0,488.7 L219.7,489.3M223.9,490.8 L223.6,492.3 L224.9,491.4 L224.4,492.0M214.1,479.9 L212.0,480.1 L212.8,480.4 L210.4,481.3M210.4,481.3 L209.0,482.4 L210.4,484.7 L209.3,486.9M209.3,486.9 L209.8,489.5 L212.1,489.0 L213.7,491.1M194.1,523.5 L193.3,523.1 L195.0,523.5 L194.8,524.7M194.1,523.5 L195.8,520.0 L198.8,516.8 L199.4,514.7M199.4,514.7 L201.8,514.9 L204.4,516.7 L207.2,518.7M221.2,519.8 L217.0,518.0 L215.1,516.6 L210.6,516.2M210.6,516.2 L210.5,517.2 L209.6,517.6 L207.2,518.7M210.4,481.3 L206.9,480.9 L205.7,479.8 L201.8,477.4M201.8,477.4 L202.7,476.3 L203.3,474.6 L203.6,471.9M200.3,443.8 L198.6,449.3 L196.2,456.9 L192.4,463.1M193.4,510.5 L190.7,512.7 L189.9,514.8 L187.8,516.1M198.1,511.6 L198.8,512.6 L199.9,513.9 L199.4,514.7M193.4,510.5 L194.6,511.5 L196.6,510.1 L198.1,511.6M188.9,559.2 L186.9,548.3 L187.6,536.7 L185.5,525.1M190.1,522.6 L189.4,524.1 L186.0,525.2 L185.5,525.1M237.5,498.0 L233.6,501.4 L230.5,503.8 L227.3,505.8M227.3,505.8 L228.2,509.3 L226.6,514.4 L227.5,518.9M221.2,519.8 L223.3,520.5 L225.8,518.0 L227.4,518.9M227.5,518.9 L227.6,518.8 L227.9,518.8 L227.4,518.9M163.0,500.3 L165.0,499.1 L167.8,496.9 L170.9,494.3M180.7,510.7 L178.6,508.7 L174.7,507.6 L173.2,507.2M188.0,501.0 L187.0,498.6 L185.3,499.2 L184.2,496.7M184.2,496.7 L184.0,496.3 L182.6,495.5 L182.4,496.7M177.6,498.9 L180.3,499.0 L181.5,498.2 L182.4,496.7M168.3,475.3 L169.9,478.6 L173.2,484.0 L175.2,486.7M175.2,486.7 L174.3,486.0 L175.9,487.2 L176.1,486.8M181.6,523.7 L178.2,530.7 L173.5,535.7 L167.9,541.4M179.4,519.9 L176.6,519.3 L175.1,520.9 L173.9,519.8M169.6,515.9 L170.6,516.3 L171.4,519.7 L173.9,519.8M224.4,492.0 L224.1,494.6 L222.5,496.5 L220.7,498.3M227.4,518.9 L222.7,514.5 L220.9,511.1 L216.2,508.0M221.8,503.2 L220.4,505.7 L217.7,506.1 L216.2,508.0M210.6,516.2 L210.2,514.5 L210.9,512.0 L212.8,508.1M212.8,508.1 L213.1,508.9 L215.8,507.4 L216.2,508.0M188.6,488.7 L187.1,485.9 L185.8,484.7 L183.1,482.0M183.4,476.7 L184.2,478.8 L182.8,481.0 L183.1,482.0M197.8,488.7 L196.4,488.9 L197.9,488.1 L196.5,487.1M204.4,490.3 L203.4,490.6 L200.1,488.1 L197.8,488.7M201.8,477.4 L200.5,477.2 L199.1,479.6 L198.2,479.3M182.0,474.7 L182.2,476.5 L183.5,476.9 L183.4,476.7M176.1,486.8 L178.8,485.9 L181.2,483.5 L183.1,482.0M211.8,496.5 L209.2,497.5 L209.9,496.0 L207.4,496.6M207.4,496.6 L206.7,497.6 L204.7,499.5 L202.4,502.4M204.4,490.3 L206.6,491.6 L205.8,495.3 L207.4,496.6M213.7,491.1 L214.2,492.4 L212.6,495.1 L211.8,496.5M212.8,508.1 L213.3,507.2 L211.8,506.7 L212.4,507.6M197.2,498.2 L198.5,500.8 L200.9,500.7 L202.4,502.4" stroke="#8c8c8c" stroke-width="0.75" fill="none" opacity="0.5"/><path d="M255.6,452.7 L246.4,460.4 L237.2,468.9 L229.2,478.3M214.8,471.9 L215.3,475.3 L215.0,476.5 L214.1,479.9M163.0,500.3 L165.9,502.9 L169.1,504.2 L172.5,507.4M237.5,498.0 L234.1,497.1 L229.4,495.1 L224.4,492.0M219.7,489.3 L218.0,490.7 L215.3,489.8 L213.7,491.1M207.3,522.3 L208.0,520.9 L208.4,519.9 L207.2,518.7M212.7,528.3 L216.3,525.5 L217.2,522.1 L221.2,519.8M214.8,471.9 L211.4,472.6 L208.0,471.9 L203.6,471.9M203.6,471.9 L202.8,463.1 L200.8,454.4 L200.3,443.8M182.4,472.5 L184.7,470.5 L190.1,466.7 L192.4,463.1M193.4,510.5 L191.0,507.5 L191.0,505.6 L188.2,504.9M188.2,504.9 L184.8,507.5 L183.9,509.6 L180.7,510.7M180.7,510.7 L182.1,511.4 L182.0,513.2 L182.0,515.1M182.0,515.1 L184.6,515.4 L185.9,514.6 L187.8,516.1M194.1,523.5 L193.6,522.2 L191.6,522.6 L190.1,522.6M187.8,516.1 L188.1,517.6 L189.3,521.5 L190.1,522.6M173.2,507.2 L173.3,507.7 L173.0,506.9 L172.5,507.4M173.2,507.2 L174.6,505.5 L175.7,502.6 L177.6,498.9M177.6,498.9 L175.7,497.2 L172.3,496.5 L170.9,494.3M188.2,504.9 L187.4,504.6 L187.8,502.5 L188.0,501.0M170.7,490.3 L169.9,491.8 L170.8,493.1 L170.9,494.3M182.4,472.5 L182.9,474.4 L181.2,474.3 L182.0,474.7M182.0,474.7 L178.0,475.2 L173.7,474.6 L168.3,475.3M170.7,490.3 L172.0,489.3 L174.6,488.4 L175.2,486.7M182.4,496.7 L180.1,493.2 L179.0,489.6 L176.1,486.8M181.6,523.7 L180.5,523.5 L180.4,520.4 L179.4,519.9M167.9,541.4 L170.5,533.4 L171.2,526.7 L173.9,519.8M185.5,525.1 L183.4,525.4 L183.3,524.3 L181.6,523.7M182.0,515.1 L180.6,516.7 L179.5,517.3 L179.4,519.9M227.3,505.8 L226.4,505.5 L223.8,504.5 L221.8,503.2M220.7,498.3 L221.2,499.9 L220.6,502.4 L221.8,503.2M196.5,487.1 L193.8,488.1 L190.5,488.9 L188.6,488.7M196.5,487.1 L197.6,485.5 L198.7,481.7 L198.2,479.3M198.2,479.3 L197.7,478.7 L194.6,477.9 L194.2,476.7M194.2,476.7 L190.2,477.1 L188.0,476.9 L183.4,476.7M188.0,501.0 L192.0,501.0 L194.5,499.7 L197.2,498.2M184.2,496.7 L185.7,495.3 L186.7,490.4 L188.6,488.7M197.2,498.2 L197.4,495.2 L197.9,491.4 L197.8,488.7M209.3,486.9 L208.0,488.3 L204.9,489.7 L204.4,490.3M192.4,463.1 L193.8,467.1 L193.3,472.3 L194.2,476.7M211.8,496.5 L212.1,497.4 L213.7,497.2 L213.4,498.2M213.4,498.2 L212.5,501.3 L211.6,503.9 L212.4,507.6M212.4,507.6 L208.4,505.6 L205.3,506.5 L202.8,504.4M202.4,502.4 L203.5,503.1 L201.7,503.4 L202.8,504.4M220.7,498.3 L217.3,499.1 L215.1,498.7 L213.4,498.2M198.1,511.6 L198.8,508.6 L202.3,508.0 L202.8,504.4" stroke="#404040" stroke-width="0.75" fill="none" opacity="0.75"/></g>
<ellipse cx="194.5" cy="500" rx="25" ry="24" fill="#000" opacity="0.7" filter="url(#mb3)"/>
</g>
<ellipse cx="230.2" cy="357.5" rx="6" ry="8" fill="#3c3c3c" filter="url(#mb15)"/>
<ellipse cx="230.2" cy="357.5" rx="2.7" ry="3.6" fill="#080808" filter="url(#mb08)"/>
<ellipse cx="233" cy="385" rx="6.5" ry="8" fill="#3a3a3a" filter="url(#mb15)"/>
<ellipse cx="233" cy="385" rx="2.9" ry="3.6" fill="#080808" filter="url(#mb08)"/>
<ellipse cx="219" cy="374" rx="5" ry="6" fill="#2e2e2e" filter="url(#mb15)"/>
<ellipse cx="219" cy="374" rx="2.2" ry="2.7" fill="#080808" filter="url(#mb08)"/>
<ellipse cx="163" cy="356" rx="5" ry="7" fill="#2e2e2e" filter="url(#mb15)"/>
<ellipse cx="163" cy="356" rx="2.2" ry="3.1" fill="#080808" filter="url(#mb08)"/>
<text x="49.4" y="328.9" font-size="9.4" fill="#f41414" textLength="49.7" lengthAdjust="spacingAndGlyphs"><tspan>ZO-1</tspan><tspan fill="#d8d8d8">/</tspan><tspan fill="#1818f4">Nuclei</tspan></text>
<text x="159" y="328.7" font-size="9.4" fill="#ececec" textLength="20.6" lengthAdjust="spacingAndGlyphs">ZO-1</text>
<text x="49.4" y="451.7" font-size="9.4" fill="#f41414" textLength="49.7" lengthAdjust="spacingAndGlyphs"><tspan>ZO-1</tspan><tspan fill="#d8d8d8">/</tspan><tspan fill="#1818f4">Nuclei</tspan></text>
<text x="159" y="452.5" font-size="9.4" fill="#ececec" textLength="20.6" lengthAdjust="spacingAndGlyphs">ZO-1</text>
<line x1="302.0" y1="375.9" x2="302.0" y2="504.1" stroke="#111" stroke-width="1.6"/>
<line x1="297.7" y1="376.4" x2="302.0" y2="376.4" stroke="#111" stroke-width="1.2"/>
<text x="296.3" y="375.2" font-size="8.8" font-weight="bold" fill="#000" text-anchor="end" >1500</text>
<line x1="297.7" y1="419.4" x2="302.0" y2="419.4" stroke="#111" stroke-width="1.2"/>
<text x="295.4" y="418.1" font-size="8.8" font-weight="bold" fill="#000" text-anchor="end" >1000</text>
<line x1="297.7" y1="462.4" x2="302.0" y2="462.4" stroke="#111" stroke-width="1.2"/>
<text x="294.3" y="461.0" font-size="8.8" font-weight="bold" fill="#000" text-anchor="end" >500</text>
<line x1="297.7" y1="504.1" x2="302.0" y2="504.1" stroke="#111" stroke-width="1.2"/>
<text x="293.0" y="503.8" font-size="8.8" font-weight="bold" fill="#000" text-anchor="end" >0</text>
<rect x="305.8" y="415.1" width="17.599999999999966" height="89.0" fill="#000"/>
<line x1="314.6" y1="411.1" x2="314.6" y2="415.1" stroke="#000" stroke-width="1"/>
<line x1="312.0" y1="411.1" x2="317.20000000000005" y2="411.1" stroke="#000" stroke-width="1"/>
<rect x="331.9" y="434.3" width="16.5" height="69.80000000000001" fill="url(#dots)" stroke="#2a2a2a" stroke-width="1"/>
<line x1="340.15" y1="428.0" x2="340.15" y2="439.5" stroke="#333" stroke-width="1"/>
<line x1="337.75" y1="428.0" x2="342.54999999999995" y2="428.0" stroke="#333" stroke-width="1"/>
<line x1="337.75" y1="439.5" x2="342.54999999999995" y2="439.5" stroke="#333" stroke-width="1"/>
<rect x="357.9" y="471.9" width="16.400000000000034" height="32.200000000000045" fill="url(#dots)" stroke="#2a2a2a" stroke-width="1"/>
<line x1="366.1" y1="469.4" x2="366.1" y2="472.9" stroke="#333" stroke-width="1"/>
<line x1="363.70000000000005" y1="469.4" x2="368.5" y2="469.4" stroke="#333" stroke-width="1"/>
<line x1="363.70000000000005" y1="472.9" x2="368.5" y2="472.9" stroke="#333" stroke-width="1"/>
<rect x="383.8" y="416.7" width="16.19999999999999" height="87.40000000000003" fill="url(#dots)" stroke="#2a2a2a" stroke-width="1"/>
<line x1="391.9" y1="411.1" x2="391.9" y2="421.0" stroke="#333" stroke-width="1"/>
<line x1="389.5" y1="411.1" x2="394.29999999999995" y2="411.1" stroke="#333" stroke-width="1"/>
<line x1="389.5" y1="421.0" x2="394.29999999999995" y2="421.0" stroke="#333" stroke-width="1"/>
<line x1="298.3" y1="504.1" x2="403.0" y2="504.1" stroke="#111" stroke-width="1.6"/>
<text x="314.5" y="515.2" font-size="8.8" font-weight="bold" fill="#000" text-anchor="middle" >CT</text>
<text x="339.0" y="515.2" font-size="8.8" font-weight="bold" fill="#000" text-anchor="middle" >2.5</text>
<text x="365.2" y="515.2" font-size="8.8" font-weight="bold" fill="#000" text-anchor="middle" >5</text>
<text x="392.4" y="515.2" font-size="8.8" font-weight="bold" fill="#000" text-anchor="middle" >10</text>
<line x1="332.2" y1="520.3" x2="397.1" y2="520.3" stroke="#111" stroke-width="1.3"/>
<text x="343.8" y="532.1" font-size="8.8" font-weight="bold" fill="#000" text-anchor="start" textLength="54.3" lengthAdjust="spacingAndGlyphs" >rFVIII (IU/mL)</text>
<text x="368.0" y="467.8" font-size="15" font-weight="bold" fill="#000" text-anchor="middle" letter-spacing="1.1">***</text>
<text transform="translate(270.4,435.6) rotate(-90)" x="0" y="0" font-size="8.9" font-weight="bold" text-anchor="middle" textLength="115" lengthAdjust="spacingAndGlyphs">Total stained surface (µm²)</text>
<line x1="449.9" y1="373.2" x2="449.9" y2="502.9" stroke="#333" stroke-width="1.4"/>
<line x1="445.59999999999997" y1="373.7" x2="449.9" y2="373.7" stroke="#333" stroke-width="1.2"/>
<text x="442.0" y="374.4" font-size="8.8" font-weight="bold" fill="#000" text-anchor="end" >0.8</text>
<line x1="445.59999999999997" y1="406.0" x2="449.9" y2="406.0" stroke="#333" stroke-width="1.2"/>
<text x="442.0" y="406.9" font-size="8.8" font-weight="bold" fill="#000" text-anchor="end" >0.6</text>
<line x1="445.59999999999997" y1="438.3" x2="449.9" y2="438.3" stroke="#333" stroke-width="1.2"/>
<text x="442.0" y="439.3" font-size="8.8" font-weight="bold" fill="#000" text-anchor="end" >0.4</text>
<line x1="445.59999999999997" y1="470.9" x2="449.9" y2="470.9" stroke="#333" stroke-width="1.2"/>
<text x="442.0" y="471.9" font-size="8.8" font-weight="bold" fill="#000" text-anchor="end" >0.2</text>
<line x1="445.59999999999997" y1="502.9" x2="449.9" y2="502.9" stroke="#333" stroke-width="1.2"/>
<text x="441.0" y="504.5" font-size="8.8" font-weight="bold" fill="#000" text-anchor="end" >0</text>
<rect x="454.3" y="416.3" width="17.0" height="86.59999999999997" fill="#000"/>
<line x1="462.8" y1="413.3" x2="462.8" y2="416.3" stroke="#000" stroke-width="1"/>
<line x1="460.2" y1="413.3" x2="465.40000000000003" y2="413.3" stroke="#000" stroke-width="1"/>
<rect x="480.1" y="412.2" width="16.399999999999977" height="90.69999999999999" fill="url(#dots)" stroke="#2a2a2a" stroke-width="1"/>
<line x1="488.3" y1="408.4" x2="488.3" y2="415.2" stroke="#333" stroke-width="1"/>
<line x1="485.90000000000003" y1="408.4" x2="490.7" y2="408.4" stroke="#333" stroke-width="1"/>
<line x1="485.90000000000003" y1="415.2" x2="490.7" y2="415.2" stroke="#333" stroke-width="1"/>
<rect x="505.8" y="428.9" width="16.69999999999999" height="74.0" fill="url(#dots)" stroke="#2a2a2a" stroke-width="1"/>
<line x1="514.15" y1="426.3" x2="514.15" y2="430.2" stroke="#333" stroke-width="1"/>
<line x1="511.75" y1="426.3" x2="516.55" y2="426.3" stroke="#333" stroke-width="1"/>
<line x1="511.75" y1="430.2" x2="516.55" y2="430.2" stroke="#333" stroke-width="1"/>
<rect x="531.7" y="418.2" width="16.59999999999991" height="84.69999999999999" fill="url(#dots)" stroke="#2a2a2a" stroke-width="1"/>
<line x1="540.0" y1="415.3" x2="540.0" y2="420.2" stroke="#333" stroke-width="1"/>
<line x1="537.6" y1="415.3" x2="542.4" y2="415.3" stroke="#333" stroke-width="1"/>
<line x1="537.6" y1="420.2" x2="542.4" y2="420.2" stroke="#333" stroke-width="1"/>
<line x1="446.1" y1="502.9" x2="552.3" y2="502.9" stroke="#111" stroke-width="1.6"/>
<line x1="462.5" y1="502.9" x2="462.5" y2="506.5" stroke="#333" stroke-width="1.1"/>
<line x1="487.9" y1="502.9" x2="487.9" y2="506.5" stroke="#333" stroke-width="1.1"/>
<line x1="514.0" y1="502.9" x2="514.0" y2="506.5" stroke="#333" stroke-width="1.1"/>
<line x1="540.2" y1="502.9" x2="540.2" y2="506.5" stroke="#333" stroke-width="1.1"/>
<text x="462.3" y="518.2" font-size="8.8" font-weight="bold" fill="#000" text-anchor="middle" >CT</text>
<text x="487.0" y="518.2" font-size="8.8" font-weight="bold" fill="#000" text-anchor="middle" >2.5</text>
<text x="513.2" y="518.2" font-size="8.8" font-weight="bold" fill="#000" text-anchor="middle" >5</text>
<text x="540.6" y="518.2" font-size="8.8" font-weight="bold" fill="#000" text-anchor="middle" >10</text>
<line x1="480.8" y1="521.6" x2="545.9" y2="521.6" stroke="#111" stroke-width="1.3"/>
<text x="491.8" y="533.1" font-size="8.8" font-weight="bold" fill="#000" text-anchor="start" textLength="54.3" lengthAdjust="spacingAndGlyphs" >rFVIII (IU/mL)</text>
<text x="515.8" y="425.4" font-size="16.5" font-weight="bold" fill="#000" text-anchor="middle" letter-spacing="0">*</text>
<text transform="translate(421.7,437.9) rotate(-90)" x="0" y="0" font-size="8.9" font-weight="bold" text-anchor="middle" textLength="134" lengthAdjust="spacingAndGlyphs">Stained surface per event (µm²)</text>
<line x1="598.0" y1="376.7" x2="598.0" y2="501.6" stroke="#333" stroke-width="1.5"/>
<line x1="593.7" y1="377.2" x2="598.0" y2="377.2" stroke="#333" stroke-width="1.2"/>
<text x="592.6" y="379.7" font-size="8.8" font-weight="bold" fill="#000" text-anchor="end" >2500</text>
<line x1="593.7" y1="402.2" x2="598.0" y2="402.2" stroke="#333" stroke-width="1.2"/>
<text x="592.6" y="404.9" font-size="8.8" font-weight="bold" fill="#000" text-anchor="end" >2000</text>
<line x1="593.7" y1="426.9" x2="598.0" y2="426.9" stroke="#333" stroke-width="1.2"/>
<text x="592.6" y="429.6" font-size="8.8" font-weight="bold" fill="#000" text-anchor="end" >1500</text>
<line x1="593.7" y1="451.6" x2="598.0" y2="451.6" stroke="#333" stroke-width="1.2"/>
<text x="592.6" y="454.4" font-size="8.8" font-weight="bold" fill="#000" text-anchor="end" >1000</text>
<line x1="593.7" y1="476.7" x2="598.0" y2="476.7" stroke="#333" stroke-width="1.2"/>
<text x="592.6" y="479.5" font-size="8.8" font-weight="bold" fill="#000" text-anchor="end" >500</text>
<line x1="593.7" y1="501.6" x2="598.0" y2="501.6" stroke="#333" stroke-width="1.2"/>
<text x="592.1" y="504.5" font-size="8.8" font-weight="bold" fill="#000" text-anchor="end" >0</text>
<rect x="602.0" y="402.2" width="17.0" height="99.40000000000003" fill="#000"/>
<line x1="610.5" y1="397.3" x2="610.5" y2="402.2" stroke="#000" stroke-width="1"/>
<line x1="607.9" y1="397.3" x2="613.1" y2="397.3" stroke="#000" stroke-width="1"/>
<rect x="628.8" y="429.0" width="16.5" height="72.60000000000002" fill="url(#dots)" stroke="#2a2a2a" stroke-width="1"/>
<line x1="637.05" y1="424.4" x2="637.05" y2="432.5" stroke="#333" stroke-width="1"/>
<line x1="634.65" y1="424.4" x2="639.4499999999999" y2="424.4" stroke="#333" stroke-width="1"/>
<line x1="634.65" y1="432.5" x2="639.4499999999999" y2="432.5" stroke="#333" stroke-width="1"/>
<rect x="655.2" y="459.9" width="16.699999999999932" height="41.700000000000045" fill="url(#dots)" stroke="#2a2a2a" stroke-width="1"/>
<line x1="663.55" y1="457.5" x2="663.55" y2="461.5" stroke="#333" stroke-width="1"/>
<line x1="661.15" y1="457.5" x2="665.9499999999999" y2="457.5" stroke="#333" stroke-width="1"/>
<line x1="661.15" y1="461.5" x2="665.9499999999999" y2="461.5" stroke="#333" stroke-width="1"/>
<rect x="681.3" y="405.2" width="16.600000000000023" height="96.40000000000003" fill="url(#dots)" stroke="#2a2a2a" stroke-width="1"/>
<line x1="689.5999999999999" y1="400.2" x2="689.5999999999999" y2="409.0" stroke="#333" stroke-width="1"/>
<line x1="687.1999999999999" y1="400.2" x2="691.9999999999999" y2="400.2" stroke="#333" stroke-width="1"/>
<line x1="687.1999999999999" y1="409.0" x2="691.9999999999999" y2="409.0" stroke="#333" stroke-width="1"/>
<line x1="594.8" y1="501.6" x2="703.3" y2="501.6" stroke="#111" stroke-width="1.6"/>
<line x1="610.9" y1="501.6" x2="610.9" y2="505.20000000000005" stroke="#333" stroke-width="1.1"/>
<line x1="637.1" y1="501.6" x2="637.1" y2="505.20000000000005" stroke="#333" stroke-width="1.1"/>
<line x1="663.6" y1="501.6" x2="663.6" y2="505.20000000000005" stroke="#333" stroke-width="1.1"/>
<line x1="689.7" y1="501.6" x2="689.7" y2="505.20000000000005" stroke="#333" stroke-width="1.1"/>
<text x="612.4" y="514.8" font-size="8.8" font-weight="bold" fill="#000" text-anchor="middle" >CT</text>
<text x="636.9" y="514.8" font-size="8.8" font-weight="bold" fill="#000" text-anchor="middle" >2.5</text>
<text x="663.05" y="514.8" font-size="8.8" font-weight="bold" fill="#000" text-anchor="middle" >5</text>
<text x="690.25" y="514.8" font-size="8.8" font-weight="bold" fill="#000" text-anchor="middle" >10</text>
<line x1="633.5" y1="520.5" x2="698.1" y2="520.5" stroke="#111" stroke-width="1.3"/>
<text x="641.8" y="531.8" font-size="8.8" font-weight="bold" fill="#000" text-anchor="start" textLength="54.2" lengthAdjust="spacingAndGlyphs" >rFVIII (IU/mL)</text>
<text x="636.5" y="422.25" font-size="12.5" font-weight="bold" fill="#000" text-anchor="middle" letter-spacing="0.7">**</text>
<text x="664.1" y="453.3" font-size="13" font-weight="bold" fill="#000" text-anchor="middle" letter-spacing="0.2">***</text>
<text transform="translate(568.9,441.0) rotate(-90)" x="0" y="0" font-size="8.9" font-weight="bold" text-anchor="middle" textLength="75" lengthAdjust="spacingAndGlyphs">Number of events</text>
</svg>
</body></html>
